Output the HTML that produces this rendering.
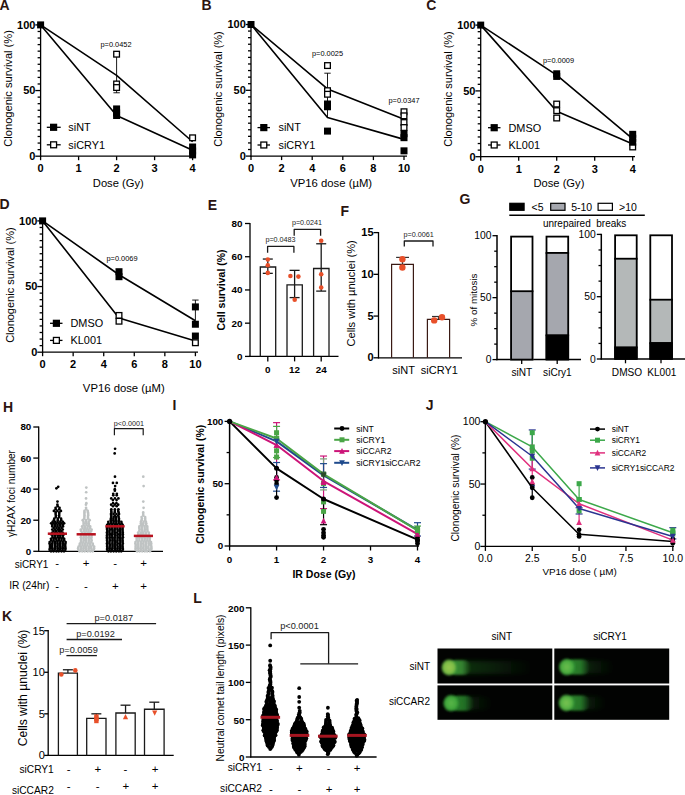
<!DOCTYPE html>
<html><head><meta charset="utf-8"><title>Figure</title>
<style>html,body{margin:0;padding:0;background:#fff;overflow:hidden;width:685px;height:795px;}svg{display:block;font-family:"Liberation Sans", sans-serif;}</style>
</head><body>
<svg width="685" height="795" viewBox="0 0 685 795">
<rect width="685" height="795" fill="#fff"/>
<defs>
<filter id="blur1" x="-30%" y="-80%" width="160%" height="260%"><feGaussianBlur stdDeviation="1.3"/></filter>
<filter id="blur2" x="-30%" y="-80%" width="160%" height="260%"><feGaussianBlur stdDeviation="2.2"/></filter>
</defs>
<text x="-0.6" y="9.7" font-size="14" font-weight="bold" fill="#2b1410">A</text>
<line x1="40.6" y1="24.3" x2="40.6" y2="156.8" stroke="#000" stroke-width="1.3"/>
<line x1="40" y1="156.2" x2="195" y2="156.2" stroke="#000" stroke-width="1.3"/>
<line x1="35.3" y1="156.2" x2="40.6" y2="156.2" stroke="#000" stroke-width="1.3"/>
<line x1="37.6" y1="149.63" x2="40.6" y2="149.63" stroke="#000" stroke-width="1.3"/>
<line x1="37.6" y1="143.07" x2="40.6" y2="143.07" stroke="#000" stroke-width="1.3"/>
<line x1="37.6" y1="136.5" x2="40.6" y2="136.5" stroke="#000" stroke-width="1.3"/>
<line x1="37.6" y1="129.94" x2="40.6" y2="129.94" stroke="#000" stroke-width="1.3"/>
<line x1="37.6" y1="123.38" x2="40.6" y2="123.38" stroke="#000" stroke-width="1.3"/>
<line x1="37.6" y1="116.81" x2="40.6" y2="116.81" stroke="#000" stroke-width="1.3"/>
<line x1="37.6" y1="110.25" x2="40.6" y2="110.25" stroke="#000" stroke-width="1.3"/>
<line x1="37.6" y1="103.68" x2="40.6" y2="103.68" stroke="#000" stroke-width="1.3"/>
<line x1="37.6" y1="97.12" x2="40.6" y2="97.12" stroke="#000" stroke-width="1.3"/>
<line x1="35.3" y1="90.55" x2="40.6" y2="90.55" stroke="#000" stroke-width="1.3"/>
<line x1="37.6" y1="83.98" x2="40.6" y2="83.98" stroke="#000" stroke-width="1.3"/>
<line x1="37.6" y1="77.42" x2="40.6" y2="77.42" stroke="#000" stroke-width="1.3"/>
<line x1="37.6" y1="70.86" x2="40.6" y2="70.86" stroke="#000" stroke-width="1.3"/>
<line x1="37.6" y1="64.29" x2="40.6" y2="64.29" stroke="#000" stroke-width="1.3"/>
<line x1="37.6" y1="57.73" x2="40.6" y2="57.73" stroke="#000" stroke-width="1.3"/>
<line x1="37.6" y1="51.16" x2="40.6" y2="51.16" stroke="#000" stroke-width="1.3"/>
<line x1="37.6" y1="44.6" x2="40.6" y2="44.6" stroke="#000" stroke-width="1.3"/>
<line x1="37.6" y1="38.03" x2="40.6" y2="38.03" stroke="#000" stroke-width="1.3"/>
<line x1="37.6" y1="31.47" x2="40.6" y2="31.47" stroke="#000" stroke-width="1.3"/>
<line x1="35.3" y1="24.9" x2="40.6" y2="24.9" stroke="#000" stroke-width="1.3"/>
<text x="35.4" y="160.1" font-size="11" font-weight="bold" text-anchor="end" fill="#000">0</text>
<text x="35.4" y="94.45" font-size="11" font-weight="bold" text-anchor="end" fill="#000">50</text>
<text x="35.4" y="28.81" font-size="11" font-weight="bold" text-anchor="end" fill="#000">100</text>
<line x1="40.6" y1="156.2" x2="40.6" y2="160.2" stroke="#000" stroke-width="1.3"/>
<text x="40.6" y="172.31" font-size="11" font-weight="bold" text-anchor="middle" fill="#000">0</text>
<line x1="78.6" y1="156.2" x2="78.6" y2="160.2" stroke="#000" stroke-width="1.3"/>
<text x="78.6" y="172.31" font-size="11" font-weight="bold" text-anchor="middle" fill="#000">1</text>
<line x1="116.6" y1="156.2" x2="116.6" y2="160.2" stroke="#000" stroke-width="1.3"/>
<text x="116.6" y="172.31" font-size="11" font-weight="bold" text-anchor="middle" fill="#000">2</text>
<line x1="154.6" y1="156.2" x2="154.6" y2="160.2" stroke="#000" stroke-width="1.3"/>
<text x="154.6" y="172.31" font-size="11" font-weight="bold" text-anchor="middle" fill="#000">3</text>
<line x1="192.6" y1="156.2" x2="192.6" y2="160.2" stroke="#000" stroke-width="1.3"/>
<text x="192.6" y="172.31" font-size="11" font-weight="bold" text-anchor="middle" fill="#000">4</text>
<text x="118.3" y="186.88" font-size="11.2" text-anchor="middle" fill="#000">Dose (Gy)</text>
<text x="7.6" y="92.34" font-size="11.1" text-anchor="middle" fill="#000" transform="rotate(-90 7.6 88.4)">Clonogenic survival (%)</text>
<polyline points="40.6,24.9 116.6,115.5 192.6,150.29" fill="none" stroke="#000" stroke-width="1.6" stroke-linejoin="round"/>
<polyline points="40.6,24.9 116.6,75.32 192.6,141.76" fill="none" stroke="#000" stroke-width="1.6" stroke-linejoin="round"/>
<line x1="116.6" y1="54.44" x2="116.6" y2="92.78" stroke="#000" stroke-width="0.9"/>
<line x1="113.4" y1="92.78" x2="119.8" y2="92.78" stroke="#000" stroke-width="0.9"/>
<rect x="113.75" y="51.33" width="5.7" height="5.7" fill="#fff" stroke="#000" stroke-width="1.3"/>
<rect x="113.75" y="81.14" width="5.7" height="5.7" fill="#fff" stroke="#000" stroke-width="1.3"/>
<rect x="113.75" y="84.68" width="5.7" height="5.7" fill="#fff" stroke="#000" stroke-width="1.3"/>
<rect x="113.1" y="105.43" width="7" height="7" fill="#000"/>
<rect x="113.1" y="109.37" width="7" height="7" fill="#000"/>
<rect x="113.1" y="112" width="7" height="7" fill="#000"/>
<rect x="189.1" y="143.51" width="7" height="7" fill="#000"/>
<rect x="189.1" y="147.45" width="7" height="7" fill="#000"/>
<rect x="189.1" y="151.39" width="7" height="7" fill="#000"/>
<rect x="189.75" y="134.97" width="5.7" height="5.7" fill="#fff" stroke="#000" stroke-width="1.3"/>
<rect x="37.1" y="21.4" width="7" height="7" fill="#000"/>
<text x="116" y="47.33" font-size="7.4" text-anchor="middle" fill="#000">p=0.0452</text>
<line x1="46.8" y1="127.3" x2="60.7" y2="127.3" stroke="#000" stroke-width="1.3"/>
<rect x="50" y="123.7" width="7.2" height="7.2" fill="#000"/>
<line x1="46.8" y1="144.8" x2="60.7" y2="144.8" stroke="#000" stroke-width="1.3"/>
<rect x="50.65" y="141.85" width="5.9" height="5.9" fill="#fff" stroke="#000" stroke-width="1.3"/>
<text x="68.3" y="131.17" font-size="10.9" text-anchor="start" fill="#000">siNT</text>
<text x="68.3" y="148.67" font-size="10.9" text-anchor="start" fill="#000">siCRY1</text>
<text x="201.6" y="9.9" font-size="14" font-weight="bold" fill="#2b1410">B</text>
<line x1="251" y1="23.9" x2="251" y2="156.7" stroke="#000" stroke-width="1.3"/>
<line x1="250.4" y1="156.1" x2="407" y2="156.1" stroke="#000" stroke-width="1.3"/>
<line x1="245.7" y1="156.1" x2="251" y2="156.1" stroke="#000" stroke-width="1.3"/>
<line x1="248" y1="149.52" x2="251" y2="149.52" stroke="#000" stroke-width="1.3"/>
<line x1="248" y1="142.94" x2="251" y2="142.94" stroke="#000" stroke-width="1.3"/>
<line x1="248" y1="136.36" x2="251" y2="136.36" stroke="#000" stroke-width="1.3"/>
<line x1="248" y1="129.78" x2="251" y2="129.78" stroke="#000" stroke-width="1.3"/>
<line x1="248" y1="123.2" x2="251" y2="123.2" stroke="#000" stroke-width="1.3"/>
<line x1="248" y1="116.62" x2="251" y2="116.62" stroke="#000" stroke-width="1.3"/>
<line x1="248" y1="110.04" x2="251" y2="110.04" stroke="#000" stroke-width="1.3"/>
<line x1="248" y1="103.46" x2="251" y2="103.46" stroke="#000" stroke-width="1.3"/>
<line x1="248" y1="96.88" x2="251" y2="96.88" stroke="#000" stroke-width="1.3"/>
<line x1="245.7" y1="90.3" x2="251" y2="90.3" stroke="#000" stroke-width="1.3"/>
<line x1="248" y1="83.72" x2="251" y2="83.72" stroke="#000" stroke-width="1.3"/>
<line x1="248" y1="77.14" x2="251" y2="77.14" stroke="#000" stroke-width="1.3"/>
<line x1="248" y1="70.56" x2="251" y2="70.56" stroke="#000" stroke-width="1.3"/>
<line x1="248" y1="63.98" x2="251" y2="63.98" stroke="#000" stroke-width="1.3"/>
<line x1="248" y1="57.4" x2="251" y2="57.4" stroke="#000" stroke-width="1.3"/>
<line x1="248" y1="50.82" x2="251" y2="50.82" stroke="#000" stroke-width="1.3"/>
<line x1="248" y1="44.24" x2="251" y2="44.24" stroke="#000" stroke-width="1.3"/>
<line x1="248" y1="37.66" x2="251" y2="37.66" stroke="#000" stroke-width="1.3"/>
<line x1="248" y1="31.08" x2="251" y2="31.08" stroke="#000" stroke-width="1.3"/>
<line x1="245.7" y1="24.5" x2="251" y2="24.5" stroke="#000" stroke-width="1.3"/>
<text x="245.8" y="160" font-size="11" font-weight="bold" text-anchor="end" fill="#000">0</text>
<text x="245.8" y="94.2" font-size="11" font-weight="bold" text-anchor="end" fill="#000">50</text>
<text x="245.8" y="28.41" font-size="11" font-weight="bold" text-anchor="end" fill="#000">100</text>
<line x1="251" y1="156.1" x2="251" y2="160.1" stroke="#000" stroke-width="1.3"/>
<text x="251" y="172.31" font-size="11" font-weight="bold" text-anchor="middle" fill="#000">0</text>
<line x1="281.6" y1="156.1" x2="281.6" y2="160.1" stroke="#000" stroke-width="1.3"/>
<text x="281.6" y="172.31" font-size="11" font-weight="bold" text-anchor="middle" fill="#000">2</text>
<line x1="312.2" y1="156.1" x2="312.2" y2="160.1" stroke="#000" stroke-width="1.3"/>
<text x="312.2" y="172.31" font-size="11" font-weight="bold" text-anchor="middle" fill="#000">4</text>
<line x1="342.8" y1="156.1" x2="342.8" y2="160.1" stroke="#000" stroke-width="1.3"/>
<text x="342.8" y="172.31" font-size="11" font-weight="bold" text-anchor="middle" fill="#000">6</text>
<line x1="373.4" y1="156.1" x2="373.4" y2="160.1" stroke="#000" stroke-width="1.3"/>
<text x="373.4" y="172.31" font-size="11" font-weight="bold" text-anchor="middle" fill="#000">8</text>
<line x1="404" y1="156.1" x2="404" y2="160.1" stroke="#000" stroke-width="1.3"/>
<text x="404" y="172.31" font-size="11" font-weight="bold" text-anchor="middle" fill="#000">10</text>
<text x="331.2" y="186.61" font-size="11.3" text-anchor="middle" fill="#000">VP16 dose (µM)</text>
<text x="218.5" y="92.91" font-size="11" text-anchor="middle" fill="#000" transform="rotate(-90 218.5 89)">Clonogenic survival (%)</text>
<polyline points="251,24.5 327.5,117.54 404,139.39" fill="none" stroke="#000" stroke-width="1.6" stroke-linejoin="round"/>
<polyline points="251,24.5 327.5,88.98 404,119.25" fill="none" stroke="#000" stroke-width="1.6" stroke-linejoin="round"/>
<line x1="327.5" y1="73.19" x2="327.5" y2="117.94" stroke="#000" stroke-width="0.9"/>
<line x1="324.3" y1="73.19" x2="330.7" y2="73.19" stroke="#000" stroke-width="0.9"/>
<rect x="324.65" y="62.71" width="5.7" height="5.7" fill="#fff" stroke="#000" stroke-width="1.3"/>
<rect x="324.65" y="87.84" width="5.7" height="5.7" fill="#fff" stroke="#000" stroke-width="1.3"/>
<rect x="324.65" y="91.4" width="5.7" height="5.7" fill="#fff" stroke="#000" stroke-width="1.3"/>
<rect x="324" y="100.49" width="7" height="7" fill="#000"/>
<rect x="324" y="103.25" width="7" height="7" fill="#000"/>
<rect x="324" y="127.6" width="7" height="7" fill="#000"/>
<rect x="401.15" y="108.9" width="5.7" height="5.7" fill="#fff" stroke="#000" stroke-width="1.3"/>
<rect x="401.15" y="112.98" width="5.7" height="5.7" fill="#fff" stroke="#000" stroke-width="1.3"/>
<rect x="401.15" y="119.69" width="5.7" height="5.7" fill="#fff" stroke="#000" stroke-width="1.3"/>
<rect x="401.15" y="124.69" width="5.7" height="5.7" fill="#fff" stroke="#000" stroke-width="1.3"/>
<rect x="400.5" y="130.23" width="7" height="7" fill="#000"/>
<rect x="400.5" y="134.18" width="7" height="7" fill="#000"/>
<rect x="400.5" y="147.34" width="7" height="7" fill="#000"/>
<rect x="247.5" y="21" width="7" height="7" fill="#000"/>
<text x="327.5" y="55.63" font-size="7.4" text-anchor="middle" fill="#000">p=0.0025</text>
<text x="404" y="102.63" font-size="7.4" text-anchor="middle" fill="#000">p=0.0347</text>
<line x1="257.5" y1="127.6" x2="270" y2="127.6" stroke="#000" stroke-width="1.3"/>
<rect x="260.2" y="124" width="7.2" height="7.2" fill="#000"/>
<line x1="257.5" y1="145" x2="270" y2="145" stroke="#000" stroke-width="1.3"/>
<rect x="260.85" y="142.05" width="5.9" height="5.9" fill="#fff" stroke="#000" stroke-width="1.3"/>
<text x="278.5" y="131.47" font-size="10.9" text-anchor="start" fill="#000">siNT</text>
<text x="278.5" y="148.87" font-size="10.9" text-anchor="start" fill="#000">siCRY1</text>
<text x="426.2" y="10" font-size="14" font-weight="bold" fill="#2b1410">C</text>
<line x1="480.7" y1="24.5" x2="480.7" y2="157.3" stroke="#000" stroke-width="1.3"/>
<line x1="480.1" y1="156.7" x2="635" y2="156.7" stroke="#000" stroke-width="1.3"/>
<line x1="475.4" y1="156.7" x2="480.7" y2="156.7" stroke="#000" stroke-width="1.3"/>
<line x1="477.7" y1="150.12" x2="480.7" y2="150.12" stroke="#000" stroke-width="1.3"/>
<line x1="477.7" y1="143.54" x2="480.7" y2="143.54" stroke="#000" stroke-width="1.3"/>
<line x1="477.7" y1="136.96" x2="480.7" y2="136.96" stroke="#000" stroke-width="1.3"/>
<line x1="477.7" y1="130.38" x2="480.7" y2="130.38" stroke="#000" stroke-width="1.3"/>
<line x1="477.7" y1="123.8" x2="480.7" y2="123.8" stroke="#000" stroke-width="1.3"/>
<line x1="477.7" y1="117.22" x2="480.7" y2="117.22" stroke="#000" stroke-width="1.3"/>
<line x1="477.7" y1="110.64" x2="480.7" y2="110.64" stroke="#000" stroke-width="1.3"/>
<line x1="477.7" y1="104.06" x2="480.7" y2="104.06" stroke="#000" stroke-width="1.3"/>
<line x1="477.7" y1="97.48" x2="480.7" y2="97.48" stroke="#000" stroke-width="1.3"/>
<line x1="475.4" y1="90.9" x2="480.7" y2="90.9" stroke="#000" stroke-width="1.3"/>
<line x1="477.7" y1="84.32" x2="480.7" y2="84.32" stroke="#000" stroke-width="1.3"/>
<line x1="477.7" y1="77.74" x2="480.7" y2="77.74" stroke="#000" stroke-width="1.3"/>
<line x1="477.7" y1="71.16" x2="480.7" y2="71.16" stroke="#000" stroke-width="1.3"/>
<line x1="477.7" y1="64.58" x2="480.7" y2="64.58" stroke="#000" stroke-width="1.3"/>
<line x1="477.7" y1="58" x2="480.7" y2="58" stroke="#000" stroke-width="1.3"/>
<line x1="477.7" y1="51.42" x2="480.7" y2="51.42" stroke="#000" stroke-width="1.3"/>
<line x1="477.7" y1="44.84" x2="480.7" y2="44.84" stroke="#000" stroke-width="1.3"/>
<line x1="477.7" y1="38.26" x2="480.7" y2="38.26" stroke="#000" stroke-width="1.3"/>
<line x1="477.7" y1="31.68" x2="480.7" y2="31.68" stroke="#000" stroke-width="1.3"/>
<line x1="475.4" y1="25.1" x2="480.7" y2="25.1" stroke="#000" stroke-width="1.3"/>
<text x="475.5" y="160.6" font-size="11" font-weight="bold" text-anchor="end" fill="#000">0</text>
<text x="475.5" y="94.8" font-size="11" font-weight="bold" text-anchor="end" fill="#000">50</text>
<text x="475.5" y="29" font-size="11" font-weight="bold" text-anchor="end" fill="#000">100</text>
<line x1="480.7" y1="156.7" x2="480.7" y2="160.7" stroke="#000" stroke-width="1.3"/>
<text x="480.7" y="172.5" font-size="11" font-weight="bold" text-anchor="middle" fill="#000">0</text>
<line x1="518.7" y1="156.7" x2="518.7" y2="160.7" stroke="#000" stroke-width="1.3"/>
<text x="518.7" y="172.5" font-size="11" font-weight="bold" text-anchor="middle" fill="#000">1</text>
<line x1="556.7" y1="156.7" x2="556.7" y2="160.7" stroke="#000" stroke-width="1.3"/>
<text x="556.7" y="172.5" font-size="11" font-weight="bold" text-anchor="middle" fill="#000">2</text>
<line x1="594.7" y1="156.7" x2="594.7" y2="160.7" stroke="#000" stroke-width="1.3"/>
<text x="594.7" y="172.5" font-size="11" font-weight="bold" text-anchor="middle" fill="#000">3</text>
<line x1="632.7" y1="156.7" x2="632.7" y2="160.7" stroke="#000" stroke-width="1.3"/>
<text x="632.7" y="172.5" font-size="11" font-weight="bold" text-anchor="middle" fill="#000">4</text>
<text x="558.9" y="186.68" font-size="11.2" text-anchor="middle" fill="#000">Dose (Gy)</text>
<text x="447.8" y="92.91" font-size="11" text-anchor="middle" fill="#000" transform="rotate(-90 447.8 89)">Clonogenic survival (%)</text>
<polyline points="480.7,25.1 556.7,75.11 632.7,138.93" fill="none" stroke="#000" stroke-width="1.6" stroke-linejoin="round"/>
<polyline points="480.7,25.1 556.7,111.3 632.7,143.93" fill="none" stroke="#000" stroke-width="1.6" stroke-linejoin="round"/>
<rect x="553.85" y="101.21" width="5.7" height="5.7" fill="#fff" stroke="#000" stroke-width="1.3"/>
<rect x="553.85" y="107.79" width="5.7" height="5.7" fill="#fff" stroke="#000" stroke-width="1.3"/>
<rect x="553.85" y="115.16" width="5.7" height="5.7" fill="#fff" stroke="#000" stroke-width="1.3"/>
<rect x="553.2" y="70.29" width="7" height="7" fill="#000"/>
<rect x="553.2" y="72.92" width="7" height="7" fill="#000"/>
<rect x="629.85" y="144.11" width="5.7" height="5.7" fill="#fff" stroke="#000" stroke-width="1.3"/>
<rect x="629.2" y="130.83" width="7" height="7" fill="#000"/>
<rect x="629.2" y="134.78" width="7" height="7" fill="#000"/>
<rect x="629.2" y="138.72" width="7" height="7" fill="#000"/>
<rect x="477.2" y="21.6" width="7" height="7" fill="#000"/>
<text x="558.5" y="63.33" font-size="7.4" text-anchor="middle" fill="#000">p=0.0009</text>
<line x1="488" y1="127.7" x2="500.5" y2="127.7" stroke="#000" stroke-width="1.3"/>
<rect x="490.6" y="124.1" width="7.2" height="7.2" fill="#000"/>
<line x1="488" y1="145" x2="500.5" y2="145" stroke="#000" stroke-width="1.3"/>
<rect x="491.25" y="142.05" width="5.9" height="5.9" fill="#fff" stroke="#000" stroke-width="1.3"/>
<text x="508.5" y="131.57" font-size="10.9" text-anchor="start" fill="#000">DMSO</text>
<text x="508.5" y="148.87" font-size="10.9" text-anchor="start" fill="#000">KL001</text>
<text x="-0.6" y="208.6" font-size="14" font-weight="bold" fill="#2b1410">D</text>
<line x1="42.6" y1="220.3" x2="42.6" y2="352.8" stroke="#000" stroke-width="1.3"/>
<line x1="42" y1="352.2" x2="198" y2="352.2" stroke="#000" stroke-width="1.3"/>
<line x1="37.3" y1="352.2" x2="42.6" y2="352.2" stroke="#000" stroke-width="1.3"/>
<line x1="39.6" y1="345.63" x2="42.6" y2="345.63" stroke="#000" stroke-width="1.3"/>
<line x1="39.6" y1="339.07" x2="42.6" y2="339.07" stroke="#000" stroke-width="1.3"/>
<line x1="39.6" y1="332.5" x2="42.6" y2="332.5" stroke="#000" stroke-width="1.3"/>
<line x1="39.6" y1="325.94" x2="42.6" y2="325.94" stroke="#000" stroke-width="1.3"/>
<line x1="39.6" y1="319.38" x2="42.6" y2="319.38" stroke="#000" stroke-width="1.3"/>
<line x1="39.6" y1="312.81" x2="42.6" y2="312.81" stroke="#000" stroke-width="1.3"/>
<line x1="39.6" y1="306.25" x2="42.6" y2="306.25" stroke="#000" stroke-width="1.3"/>
<line x1="39.6" y1="299.68" x2="42.6" y2="299.68" stroke="#000" stroke-width="1.3"/>
<line x1="39.6" y1="293.12" x2="42.6" y2="293.12" stroke="#000" stroke-width="1.3"/>
<line x1="37.3" y1="286.55" x2="42.6" y2="286.55" stroke="#000" stroke-width="1.3"/>
<line x1="39.6" y1="279.99" x2="42.6" y2="279.99" stroke="#000" stroke-width="1.3"/>
<line x1="39.6" y1="273.42" x2="42.6" y2="273.42" stroke="#000" stroke-width="1.3"/>
<line x1="39.6" y1="266.86" x2="42.6" y2="266.86" stroke="#000" stroke-width="1.3"/>
<line x1="39.6" y1="260.29" x2="42.6" y2="260.29" stroke="#000" stroke-width="1.3"/>
<line x1="39.6" y1="253.73" x2="42.6" y2="253.73" stroke="#000" stroke-width="1.3"/>
<line x1="39.6" y1="247.16" x2="42.6" y2="247.16" stroke="#000" stroke-width="1.3"/>
<line x1="39.6" y1="240.6" x2="42.6" y2="240.6" stroke="#000" stroke-width="1.3"/>
<line x1="39.6" y1="234.03" x2="42.6" y2="234.03" stroke="#000" stroke-width="1.3"/>
<line x1="39.6" y1="227.47" x2="42.6" y2="227.47" stroke="#000" stroke-width="1.3"/>
<line x1="37.3" y1="220.9" x2="42.6" y2="220.9" stroke="#000" stroke-width="1.3"/>
<text x="37.4" y="356.1" font-size="11" font-weight="bold" text-anchor="end" fill="#000">0</text>
<text x="37.4" y="290.45" font-size="11" font-weight="bold" text-anchor="end" fill="#000">50</text>
<text x="37.4" y="224.81" font-size="11" font-weight="bold" text-anchor="end" fill="#000">100</text>
<line x1="42.6" y1="352.2" x2="42.6" y2="356.2" stroke="#000" stroke-width="1.3"/>
<text x="42.6" y="368" font-size="11" font-weight="bold" text-anchor="middle" fill="#000">0</text>
<line x1="73.16" y1="352.2" x2="73.16" y2="356.2" stroke="#000" stroke-width="1.3"/>
<text x="73.16" y="368" font-size="11" font-weight="bold" text-anchor="middle" fill="#000">2</text>
<line x1="103.72" y1="352.2" x2="103.72" y2="356.2" stroke="#000" stroke-width="1.3"/>
<text x="103.72" y="368" font-size="11" font-weight="bold" text-anchor="middle" fill="#000">4</text>
<line x1="134.28" y1="352.2" x2="134.28" y2="356.2" stroke="#000" stroke-width="1.3"/>
<text x="134.28" y="368" font-size="11" font-weight="bold" text-anchor="middle" fill="#000">6</text>
<line x1="164.84" y1="352.2" x2="164.84" y2="356.2" stroke="#000" stroke-width="1.3"/>
<text x="164.84" y="368" font-size="11" font-weight="bold" text-anchor="middle" fill="#000">8</text>
<line x1="195.4" y1="352.2" x2="195.4" y2="356.2" stroke="#000" stroke-width="1.3"/>
<text x="195.4" y="368" font-size="11" font-weight="bold" text-anchor="middle" fill="#000">10</text>
<text x="123.8" y="391.51" font-size="11.3" text-anchor="middle" fill="#000">VP16 dose (µM)</text>
<text x="9.8" y="289" font-size="11" text-anchor="middle" fill="#000" transform="rotate(-90 9.8 285.1)">Clonogenic survival (%)</text>
<polyline points="42.6,220.9 119,274.73 195.4,320.69" fill="none" stroke="#000" stroke-width="1.6" stroke-linejoin="round"/>
<polyline points="42.6,220.9 119,318.06 195.4,341.04" fill="none" stroke="#000" stroke-width="1.6" stroke-linejoin="round"/>
<line x1="195.4" y1="300.07" x2="195.4" y2="320.69" stroke="#000" stroke-width="0.9"/>
<line x1="192.2" y1="300.07" x2="198.6" y2="300.07" stroke="#000" stroke-width="0.9"/>
<rect x="115.5" y="268.21" width="7" height="7" fill="#000"/>
<rect x="115.5" y="273.2" width="7" height="7" fill="#000"/>
<rect x="116.15" y="312.59" width="5.7" height="5.7" fill="#fff" stroke="#000" stroke-width="1.3"/>
<rect x="116.15" y="318.36" width="5.7" height="5.7" fill="#fff" stroke="#000" stroke-width="1.3"/>
<rect x="191.9" y="303.4" width="7" height="7" fill="#000"/>
<rect x="191.9" y="320.73" width="7" height="7" fill="#000"/>
<rect x="191.9" y="332.55" width="7" height="7" fill="#000"/>
<rect x="192.55" y="339.9" width="5.7" height="5.7" fill="#fff" stroke="#000" stroke-width="1.3"/>
<rect x="39.1" y="217.4" width="7" height="7" fill="#000"/>
<text x="122" y="260.83" font-size="7.4" text-anchor="middle" fill="#000">p=0.0069</text>
<line x1="50" y1="323.3" x2="62.5" y2="323.3" stroke="#000" stroke-width="1.3"/>
<rect x="52.8" y="319.7" width="7.2" height="7.2" fill="#000"/>
<line x1="50" y1="340.4" x2="62.5" y2="340.4" stroke="#000" stroke-width="1.3"/>
<rect x="53.45" y="337.45" width="5.9" height="5.9" fill="#fff" stroke="#000" stroke-width="1.3"/>
<text x="70.5" y="327.17" font-size="10.9" text-anchor="start" fill="#000">DMSO</text>
<text x="70.5" y="344.27" font-size="10.9" text-anchor="start" fill="#000">KL001</text>
<text x="207.8" y="210" font-size="14" font-weight="bold" fill="#2b1410">E</text>
<line x1="250" y1="222.9" x2="250" y2="357" stroke="#000" stroke-width="1.3"/>
<line x1="249.4" y1="356.4" x2="338.5" y2="356.4" stroke="#000" stroke-width="1.3"/>
<line x1="245" y1="356.4" x2="250" y2="356.4" stroke="#000" stroke-width="1.3"/>
<text x="242.4" y="359.91" font-size="9.9" font-weight="bold" text-anchor="end" fill="#000">0</text>
<line x1="245" y1="323.17" x2="250" y2="323.17" stroke="#000" stroke-width="1.3"/>
<text x="242.4" y="326.69" font-size="9.9" font-weight="bold" text-anchor="end" fill="#000">20</text>
<line x1="245" y1="289.95" x2="250" y2="289.95" stroke="#000" stroke-width="1.3"/>
<text x="242.4" y="293.46" font-size="9.9" font-weight="bold" text-anchor="end" fill="#000">40</text>
<line x1="245" y1="256.73" x2="250" y2="256.73" stroke="#000" stroke-width="1.3"/>
<text x="242.4" y="260.24" font-size="9.9" font-weight="bold" text-anchor="end" fill="#000">60</text>
<line x1="245" y1="223.5" x2="250" y2="223.5" stroke="#000" stroke-width="1.3"/>
<text x="242.4" y="227.01" font-size="9.9" font-weight="bold" text-anchor="end" fill="#000">80</text>
<polyline points="260.3,356.4 260.3,267.02 275.7,267.02 275.7,356.4" fill="none" stroke="#1a1a1a" stroke-width="1.3"/>
<line x1="267.8" y1="259.05" x2="267.8" y2="273.34" stroke="#1a1a1a" stroke-width="1.3"/>
<line x1="262.8" y1="259.05" x2="272.8" y2="259.05" stroke="#1a1a1a" stroke-width="1.3"/>
<line x1="262.8" y1="273.34" x2="272.8" y2="273.34" stroke="#1a1a1a" stroke-width="1.3"/>
<polyline points="287,356.4 287,284.97 302.3,284.97 302.3,356.4" fill="none" stroke="#1a1a1a" stroke-width="1.3"/>
<line x1="294.6" y1="270.35" x2="294.6" y2="297.59" stroke="#1a1a1a" stroke-width="1.3"/>
<line x1="289.6" y1="270.35" x2="299.6" y2="270.35" stroke="#1a1a1a" stroke-width="1.3"/>
<line x1="289.6" y1="297.59" x2="299.6" y2="297.59" stroke="#1a1a1a" stroke-width="1.3"/>
<polyline points="313.6,356.4 313.6,268.52 329,268.52 329,356.4" fill="none" stroke="#1a1a1a" stroke-width="1.3"/>
<line x1="321.2" y1="243.77" x2="321.2" y2="291.11" stroke="#1a1a1a" stroke-width="1.3"/>
<line x1="316.2" y1="243.77" x2="326.2" y2="243.77" stroke="#1a1a1a" stroke-width="1.3"/>
<line x1="316.2" y1="291.11" x2="326.2" y2="291.11" stroke="#1a1a1a" stroke-width="1.3"/>
<circle cx="267.8" cy="259.5" r="2.3" fill="#e8502a"/>
<circle cx="267.8" cy="265.3" r="2.3" fill="#e8502a"/>
<circle cx="267.8" cy="272.9" r="2.3" fill="#e8502a"/>
<circle cx="290.4" cy="276" r="2.3" fill="#e8502a"/>
<circle cx="298.4" cy="276.6" r="2.3" fill="#e8502a"/>
<circle cx="294.7" cy="299.8" r="2.3" fill="#e8502a"/>
<circle cx="321.2" cy="240.8" r="2.3" fill="#e8502a"/>
<circle cx="321.2" cy="274.3" r="2.3" fill="#e8502a"/>
<circle cx="321.2" cy="287.5" r="2.3" fill="#e8502a"/>
<line x1="267.8" y1="356.4" x2="267.8" y2="361.4" stroke="#000" stroke-width="1.3"/>
<text x="267.8" y="373.31" font-size="9.9" font-weight="bold" text-anchor="middle" fill="#000">0</text>
<line x1="294.6" y1="356.4" x2="294.6" y2="361.4" stroke="#000" stroke-width="1.3"/>
<text x="294.6" y="373.31" font-size="9.9" font-weight="bold" text-anchor="middle" fill="#000">12</text>
<line x1="321.2" y1="356.4" x2="321.2" y2="361.4" stroke="#000" stroke-width="1.3"/>
<text x="321.2" y="373.31" font-size="9.9" font-weight="bold" text-anchor="middle" fill="#000">24</text>
<polyline points="267.6,252.7 267.6,246.4 293.9,246.4 293.9,252.7" fill="none" stroke="#1a1a1a" stroke-width="1.3" stroke-linejoin="round"/>
<polyline points="294.2,235.7 294.2,229.3 320.6,229.3 320.6,235.7" fill="none" stroke="#1a1a1a" stroke-width="1.3" stroke-linejoin="round"/>
<text x="280.5" y="242.36" font-size="7.2" text-anchor="middle" fill="#222">p=0.0483</text>
<text x="307" y="225.46" font-size="7.2" text-anchor="middle" fill="#222">p=0.0241</text>
<text x="221" y="293.73" font-size="10.5" font-weight="bold" text-anchor="middle" fill="#000" transform="rotate(-90 221 290)">Cell survival (%)</text>
<text x="340.6" y="215.6" font-size="14" font-weight="bold" fill="#2b1410">F</text>
<line x1="378.5" y1="232" x2="378.5" y2="358.4" stroke="#000" stroke-width="1.3"/>
<line x1="377.9" y1="357.8" x2="462" y2="357.8" stroke="#000" stroke-width="1.3"/>
<line x1="373.5" y1="357.8" x2="378.5" y2="357.8" stroke="#000" stroke-width="1.3"/>
<text x="373.6" y="361.4" font-size="11" font-weight="bold" text-anchor="end" fill="#000">0</text>
<line x1="373.5" y1="316.07" x2="378.5" y2="316.07" stroke="#000" stroke-width="1.3"/>
<text x="373.6" y="319.67" font-size="11" font-weight="bold" text-anchor="end" fill="#000">5</text>
<line x1="373.5" y1="274.33" x2="378.5" y2="274.33" stroke="#000" stroke-width="1.3"/>
<text x="373.6" y="277.94" font-size="11" font-weight="bold" text-anchor="end" fill="#000">10</text>
<line x1="373.5" y1="232.6" x2="378.5" y2="232.6" stroke="#000" stroke-width="1.3"/>
<text x="373.6" y="236.2" font-size="11" font-weight="bold" text-anchor="end" fill="#000">15</text>
<polyline points="391.6,357.8 391.6,264.3 413.4,264.3 413.4,357.8" fill="none" stroke="#3a1a14" stroke-width="1.2"/>
<polyline points="427.4,357.8 427.4,319.4 449.6,319.4 449.6,357.8" fill="none" stroke="#3a1a14" stroke-width="1.2"/>
<line x1="402.5" y1="257.4" x2="402.5" y2="264.3" stroke="#333" stroke-width="1.2"/>
<line x1="396.1" y1="257.4" x2="409" y2="257.4" stroke="#333" stroke-width="1.2"/>
<line x1="438.5" y1="316.5" x2="438.5" y2="319.4" stroke="#333" stroke-width="1.2"/>
<line x1="432" y1="316.5" x2="445" y2="316.5" stroke="#333" stroke-width="1.2"/>
<circle cx="402.4" cy="259.2" r="3.2" fill="#e8502a"/>
<circle cx="402.4" cy="267.5" r="3.2" fill="#e8502a"/>
<circle cx="434.2" cy="320.4" r="3.2" fill="#e8502a"/>
<circle cx="442" cy="317.2" r="3.2" fill="#e8502a"/>
<polyline points="404.3,246.6 404.3,241 433,241 433,246.6" fill="none" stroke="#1a1a1a" stroke-width="1.3" stroke-linejoin="round"/>
<text x="418.6" y="237.36" font-size="7.2" text-anchor="middle" fill="#222">p=0.0061</text>
<text x="403.6" y="373.6" font-size="11" text-anchor="middle" fill="#000">siNT</text>
<text x="439.4" y="373.6" font-size="11" text-anchor="middle" fill="#000">siCRY1</text>
<text x="351.5" y="297.34" font-size="11.1" text-anchor="middle" fill="#000" transform="rotate(-90 351.5 293.4)">Cells with µnuclei (%)</text>
<text x="459.4" y="204.4" font-size="14" font-weight="bold" fill="#2b1410">G</text>
<rect x="509.8" y="203.3" width="14.3" height="7" fill="#000" stroke="#000" stroke-width="1.2"/>
<rect x="550.7" y="203.3" width="14.3" height="7" fill="#a5a7ae" stroke="#000" stroke-width="1.2"/>
<rect x="598.1" y="203.3" width="14.3" height="7" fill="#fff" stroke="#000" stroke-width="1.2"/>
<text x="531.5" y="210.53" font-size="10.5" text-anchor="start" fill="#000">&lt;5</text>
<text x="571.2" y="210.53" font-size="10.5" text-anchor="start" fill="#000">5-10</text>
<text x="619.1" y="210.53" font-size="10.5" text-anchor="start" fill="#000">&gt;10</text>
<line x1="509.3" y1="215.2" x2="644.8" y2="215.2" stroke="#000" stroke-width="1.5"/>
<text x="584.6" y="227.45" font-size="10" text-anchor="middle" fill="#000">unrepaired&#160; breaks</text>
<line x1="497" y1="235.1" x2="497" y2="360.2" stroke="#000" stroke-width="1.5"/>
<line x1="496.4" y1="359.6" x2="581" y2="359.6" stroke="#000" stroke-width="1.5"/>
<line x1="492.5" y1="359.6" x2="497" y2="359.6" stroke="#000" stroke-width="1.3"/>
<line x1="494.2" y1="344.11" x2="497" y2="344.11" stroke="#000" stroke-width="1.3"/>
<line x1="494.2" y1="328.62" x2="497" y2="328.62" stroke="#000" stroke-width="1.3"/>
<line x1="494.2" y1="313.14" x2="497" y2="313.14" stroke="#000" stroke-width="1.3"/>
<line x1="492.5" y1="297.65" x2="497" y2="297.65" stroke="#000" stroke-width="1.3"/>
<line x1="494.2" y1="282.16" x2="497" y2="282.16" stroke="#000" stroke-width="1.3"/>
<line x1="494.2" y1="266.68" x2="497" y2="266.68" stroke="#000" stroke-width="1.3"/>
<line x1="494.2" y1="251.19" x2="497" y2="251.19" stroke="#000" stroke-width="1.3"/>
<line x1="492.5" y1="235.7" x2="497" y2="235.7" stroke="#000" stroke-width="1.3"/>
<text x="491.5" y="363.26" font-size="10.3" text-anchor="end" fill="#000">0</text>
<text x="491.5" y="301.31" font-size="10.3" text-anchor="end" fill="#000">50</text>
<text x="491.5" y="239.36" font-size="10.3" text-anchor="end" fill="#000">100</text>
<rect x="510.2" y="291.21" width="23.2" height="68.39" fill="#a5a7ae"/>
<rect x="510.2" y="235.7" width="23.2" height="55.51" fill="#fff"/>
<rect x="511.1" y="236.6" width="21.4" height="123" fill="none" stroke="#000" stroke-width="1.8"/>
<line x1="510.2" y1="291.21" x2="533.4" y2="291.21" stroke="#000" stroke-width="1.8"/>
<rect x="545.6" y="335.19" width="23.5" height="24.41" fill="#000"/>
<rect x="545.6" y="252.92" width="23.5" height="82.27" fill="#a5a7ae"/>
<rect x="545.6" y="235.7" width="23.5" height="17.22" fill="#fff"/>
<rect x="546.5" y="236.6" width="21.7" height="123" fill="none" stroke="#000" stroke-width="1.8"/>
<line x1="545.6" y1="335.19" x2="569.1" y2="335.19" stroke="#000" stroke-width="1.8"/>
<line x1="545.6" y1="252.92" x2="569.1" y2="252.92" stroke="#000" stroke-width="1.8"/>
<line x1="521.7" y1="359.6" x2="521.7" y2="363.9" stroke="#000" stroke-width="1.3"/>
<text x="521.9" y="376.19" font-size="10.1" text-anchor="middle" fill="#000">siNT</text>
<line x1="557.2" y1="359.6" x2="557.2" y2="363.9" stroke="#000" stroke-width="1.3"/>
<text x="557.4" y="376.19" font-size="10.1" text-anchor="middle" fill="#000">siCry1</text>
<line x1="601.3" y1="233.8" x2="601.3" y2="359.6" stroke="#000" stroke-width="1.5"/>
<line x1="600.7" y1="359" x2="685" y2="359" stroke="#000" stroke-width="1.5"/>
<line x1="596.8" y1="359" x2="601.3" y2="359" stroke="#000" stroke-width="1.3"/>
<line x1="598.5" y1="343.43" x2="601.3" y2="343.43" stroke="#000" stroke-width="1.3"/>
<line x1="598.5" y1="327.85" x2="601.3" y2="327.85" stroke="#000" stroke-width="1.3"/>
<line x1="598.5" y1="312.27" x2="601.3" y2="312.27" stroke="#000" stroke-width="1.3"/>
<line x1="596.8" y1="296.7" x2="601.3" y2="296.7" stroke="#000" stroke-width="1.3"/>
<line x1="598.5" y1="281.12" x2="601.3" y2="281.12" stroke="#000" stroke-width="1.3"/>
<line x1="598.5" y1="265.55" x2="601.3" y2="265.55" stroke="#000" stroke-width="1.3"/>
<line x1="598.5" y1="249.97" x2="601.3" y2="249.97" stroke="#000" stroke-width="1.3"/>
<line x1="596.8" y1="234.4" x2="601.3" y2="234.4" stroke="#000" stroke-width="1.3"/>
<text x="595.8" y="362.66" font-size="10.3" text-anchor="end" fill="#000">0</text>
<text x="595.8" y="300.36" font-size="10.3" text-anchor="end" fill="#000">50</text>
<text x="595.8" y="238.06" font-size="10.3" text-anchor="end" fill="#000">100</text>
<rect x="614.2" y="347.29" width="23.4" height="11.71" fill="#000"/>
<rect x="614.2" y="258.7" width="23.4" height="88.59" fill="#b4b8b8"/>
<rect x="614.2" y="234.4" width="23.4" height="24.3" fill="#fff"/>
<rect x="615.1" y="235.3" width="21.6" height="123.7" fill="none" stroke="#000" stroke-width="1.8"/>
<line x1="614.2" y1="347.29" x2="637.6" y2="347.29" stroke="#000" stroke-width="1.8"/>
<line x1="614.2" y1="258.7" x2="637.6" y2="258.7" stroke="#000" stroke-width="1.8"/>
<rect x="649.4" y="342.93" width="23.5" height="16.07" fill="#000"/>
<rect x="649.4" y="299.69" width="23.5" height="43.24" fill="#b4b8b8"/>
<rect x="649.4" y="234.4" width="23.5" height="65.29" fill="#fff"/>
<rect x="650.3" y="235.3" width="21.7" height="123.7" fill="none" stroke="#000" stroke-width="1.8"/>
<line x1="649.4" y1="342.93" x2="672.9" y2="342.93" stroke="#000" stroke-width="1.8"/>
<line x1="649.4" y1="299.69" x2="672.9" y2="299.69" stroke="#000" stroke-width="1.8"/>
<line x1="625.5" y1="359" x2="625.5" y2="363.3" stroke="#000" stroke-width="1.3"/>
<text x="627" y="375.59" font-size="10.1" text-anchor="middle" fill="#000">DMSO</text>
<line x1="661" y1="359" x2="661" y2="363.3" stroke="#000" stroke-width="1.3"/>
<text x="661.8" y="375.59" font-size="10.1" text-anchor="middle" fill="#000">KL001</text>
<text x="474" y="303.48" font-size="9.8" text-anchor="middle" fill="#000" transform="rotate(-90 474 300)">% of mitosis</text>
<text x="3" y="412.1" font-size="14" font-weight="bold" fill="#2b1410">H</text>
<line x1="38.7" y1="426.4" x2="38.7" y2="551.9" stroke="#000" stroke-width="1.3"/>
<line x1="38.1" y1="551.3" x2="163" y2="551.3" stroke="#000" stroke-width="1.3"/>
<line x1="33.3" y1="551.3" x2="38.7" y2="551.3" stroke="#000" stroke-width="1.3"/>
<text x="31.3" y="554.78" font-size="9.8" font-weight="bold" text-anchor="end" fill="#000">0</text>
<line x1="33.3" y1="520.22" x2="38.7" y2="520.22" stroke="#000" stroke-width="1.3"/>
<text x="31.3" y="523.7" font-size="9.8" font-weight="bold" text-anchor="end" fill="#000">20</text>
<line x1="33.3" y1="489.15" x2="38.7" y2="489.15" stroke="#000" stroke-width="1.3"/>
<text x="31.3" y="492.63" font-size="9.8" font-weight="bold" text-anchor="end" fill="#000">40</text>
<line x1="33.3" y1="458.07" x2="38.7" y2="458.07" stroke="#000" stroke-width="1.3"/>
<text x="31.3" y="461.55" font-size="9.8" font-weight="bold" text-anchor="end" fill="#000">60</text>
<line x1="33.3" y1="427" x2="38.7" y2="427" stroke="#000" stroke-width="1.3"/>
<text x="31.3" y="430.48" font-size="9.8" font-weight="bold" text-anchor="end" fill="#000">80</text>
<g fill="#000"><circle cx="51.01" cy="551.3" r="1.35"/><circle cx="53.53" cy="551.3" r="1.35"/><circle cx="56.38" cy="551.3" r="1.35"/><circle cx="58.69" cy="551.3" r="1.35"/><circle cx="61.52" cy="551.3" r="1.35"/><circle cx="64.03" cy="551.3" r="1.35"/><circle cx="49.58" cy="549.75" r="1.35"/><circle cx="52.4" cy="549.75" r="1.35"/><circle cx="54.77" cy="549.75" r="1.35"/><circle cx="57.57" cy="549.75" r="1.35"/><circle cx="59.98" cy="549.75" r="1.35"/><circle cx="62.6" cy="549.75" r="1.35"/><circle cx="65.36" cy="549.75" r="1.35"/><circle cx="49.96" cy="548.19" r="1.35"/><circle cx="52.21" cy="548.19" r="1.35"/><circle cx="54.86" cy="548.19" r="1.35"/><circle cx="57.66" cy="548.19" r="1.35"/><circle cx="60.42" cy="548.19" r="1.35"/><circle cx="62.84" cy="548.19" r="1.35"/><circle cx="65.35" cy="548.19" r="1.35"/><circle cx="50.04" cy="546.64" r="1.35"/><circle cx="52.17" cy="546.64" r="1.35"/><circle cx="55.18" cy="546.64" r="1.35"/><circle cx="57.49" cy="546.64" r="1.35"/><circle cx="60.02" cy="546.64" r="1.35"/><circle cx="62.61" cy="546.64" r="1.35"/><circle cx="65.3" cy="546.64" r="1.35"/><circle cx="49.96" cy="545.08" r="1.35"/><circle cx="52.24" cy="545.08" r="1.35"/><circle cx="55.04" cy="545.08" r="1.35"/><circle cx="57.67" cy="545.08" r="1.35"/><circle cx="60.14" cy="545.08" r="1.35"/><circle cx="62.82" cy="545.08" r="1.35"/><circle cx="65.18" cy="545.08" r="1.35"/><circle cx="49.58" cy="543.53" r="1.35"/><circle cx="52.25" cy="543.53" r="1.35"/><circle cx="55.09" cy="543.53" r="1.35"/><circle cx="57.56" cy="543.53" r="1.35"/><circle cx="60.11" cy="543.53" r="1.35"/><circle cx="62.84" cy="543.53" r="1.35"/><circle cx="65.38" cy="543.53" r="1.35"/><circle cx="49.7" cy="541.98" r="1.35"/><circle cx="52.55" cy="541.98" r="1.35"/><circle cx="55.1" cy="541.98" r="1.35"/><circle cx="57.47" cy="541.98" r="1.35"/><circle cx="60.24" cy="541.98" r="1.35"/><circle cx="62.81" cy="541.98" r="1.35"/><circle cx="65.59" cy="541.98" r="1.35"/><circle cx="51.21" cy="540.42" r="1.35"/><circle cx="53.59" cy="540.42" r="1.35"/><circle cx="56.54" cy="540.42" r="1.35"/><circle cx="58.71" cy="540.42" r="1.35"/><circle cx="61.46" cy="540.42" r="1.35"/><circle cx="64.23" cy="540.42" r="1.35"/><circle cx="50.93" cy="538.87" r="1.35"/><circle cx="53.69" cy="538.87" r="1.35"/><circle cx="56.07" cy="538.87" r="1.35"/><circle cx="58.98" cy="538.87" r="1.35"/><circle cx="61.63" cy="538.87" r="1.35"/><circle cx="64.14" cy="538.87" r="1.35"/><circle cx="52.59" cy="537.32" r="1.35"/><circle cx="54.91" cy="537.32" r="1.35"/><circle cx="57.7" cy="537.32" r="1.35"/><circle cx="60.25" cy="537.32" r="1.35"/><circle cx="62.84" cy="537.32" r="1.35"/><circle cx="52.38" cy="535.76" r="1.35"/><circle cx="55.17" cy="535.76" r="1.35"/><circle cx="57.82" cy="535.76" r="1.35"/><circle cx="60.19" cy="535.76" r="1.35"/><circle cx="62.88" cy="535.76" r="1.35"/><circle cx="50.88" cy="534.21" r="1.35"/><circle cx="53.8" cy="534.21" r="1.35"/><circle cx="56.37" cy="534.21" r="1.35"/><circle cx="59.15" cy="534.21" r="1.35"/><circle cx="61.66" cy="534.21" r="1.35"/><circle cx="63.99" cy="534.21" r="1.35"/><circle cx="52.34" cy="532.65" r="1.35"/><circle cx="55.08" cy="532.65" r="1.35"/><circle cx="57.36" cy="532.65" r="1.35"/><circle cx="60.18" cy="532.65" r="1.35"/><circle cx="62.63" cy="532.65" r="1.35"/><circle cx="53.51" cy="531.1" r="1.35"/><circle cx="56.08" cy="531.1" r="1.35"/><circle cx="59.03" cy="531.1" r="1.35"/><circle cx="61.31" cy="531.1" r="1.35"/><circle cx="52.27" cy="529.55" r="1.35"/><circle cx="54.95" cy="529.55" r="1.35"/><circle cx="57.79" cy="529.55" r="1.35"/><circle cx="59.99" cy="529.55" r="1.35"/><circle cx="62.77" cy="529.55" r="1.35"/><circle cx="53.72" cy="527.99" r="1.35"/><circle cx="56.49" cy="527.99" r="1.35"/><circle cx="59.06" cy="527.99" r="1.35"/><circle cx="61.68" cy="527.99" r="1.35"/><circle cx="52.29" cy="526.44" r="1.35"/><circle cx="54.96" cy="526.44" r="1.35"/><circle cx="57.53" cy="526.44" r="1.35"/><circle cx="60.39" cy="526.44" r="1.35"/><circle cx="63.03" cy="526.44" r="1.35"/><circle cx="52.23" cy="524.89" r="1.35"/><circle cx="54.84" cy="524.89" r="1.35"/><circle cx="57.47" cy="524.89" r="1.35"/><circle cx="60.07" cy="524.89" r="1.35"/><circle cx="62.79" cy="524.89" r="1.35"/><circle cx="51.14" cy="523.33" r="1.35"/><circle cx="53.58" cy="523.33" r="1.35"/><circle cx="56.05" cy="523.33" r="1.35"/><circle cx="58.86" cy="523.33" r="1.35"/><circle cx="61.43" cy="523.33" r="1.35"/><circle cx="64.13" cy="523.33" r="1.35"/><circle cx="52.63" cy="521.78" r="1.35"/><circle cx="55.1" cy="521.78" r="1.35"/><circle cx="57.61" cy="521.78" r="1.35"/><circle cx="60.26" cy="521.78" r="1.35"/><circle cx="62.89" cy="521.78" r="1.35"/><circle cx="53.87" cy="520.22" r="1.35"/><circle cx="57.8" cy="520.22" r="1.35"/><circle cx="61.25" cy="520.22" r="1.35"/><circle cx="54.28" cy="518.67" r="1.35"/><circle cx="57.75" cy="518.67" r="1.35"/><circle cx="61.06" cy="518.67" r="1.35"/><circle cx="55.79" cy="517.12" r="1.35"/><circle cx="59.16" cy="517.12" r="1.35"/><circle cx="55.91" cy="515.56" r="1.35"/><circle cx="59.14" cy="515.56" r="1.35"/><circle cx="55.63" cy="514.01" r="1.35"/><circle cx="59.21" cy="514.01" r="1.35"/><circle cx="55.68" cy="512.46" r="1.35"/><circle cx="59.28" cy="512.46" r="1.35"/><circle cx="53.87" cy="510.9" r="1.35"/><circle cx="57.35" cy="510.9" r="1.35"/><circle cx="60.94" cy="510.9" r="1.35"/><circle cx="55.65" cy="509.35" r="1.35"/><circle cx="59.29" cy="509.35" r="1.35"/><circle cx="55.61" cy="507.79" r="1.35"/><circle cx="59.54" cy="507.79" r="1.35"/><circle cx="57.66" cy="506.24" r="1.35"/><circle cx="57.42" cy="504.69" r="1.35"/><circle cx="57.48" cy="501.58" r="1.35"/></g>
<circle cx="56.4" cy="488.37" r="1.35"/><circle cx="58.2" cy="486.82" r="1.35"/>
<g fill="#bfc3c3"><circle cx="79.62" cy="551.3" r="1.35"/><circle cx="82.23" cy="551.3" r="1.35"/><circle cx="84.71" cy="551.3" r="1.35"/><circle cx="87.67" cy="551.3" r="1.35"/><circle cx="90.35" cy="551.3" r="1.35"/><circle cx="92.68" cy="551.3" r="1.35"/><circle cx="78.39" cy="549.75" r="1.35"/><circle cx="80.79" cy="549.75" r="1.35"/><circle cx="83.4" cy="549.75" r="1.35"/><circle cx="86.12" cy="549.75" r="1.35"/><circle cx="88.68" cy="549.75" r="1.35"/><circle cx="91.56" cy="549.75" r="1.35"/><circle cx="93.83" cy="549.75" r="1.35"/><circle cx="78.16" cy="548.19" r="1.35"/><circle cx="81.23" cy="548.19" r="1.35"/><circle cx="83.61" cy="548.19" r="1.35"/><circle cx="86.02" cy="548.19" r="1.35"/><circle cx="88.82" cy="548.19" r="1.35"/><circle cx="91.16" cy="548.19" r="1.35"/><circle cx="94.01" cy="548.19" r="1.35"/><circle cx="78.64" cy="546.64" r="1.35"/><circle cx="81.18" cy="546.64" r="1.35"/><circle cx="83.7" cy="546.64" r="1.35"/><circle cx="86.08" cy="546.64" r="1.35"/><circle cx="88.73" cy="546.64" r="1.35"/><circle cx="91.23" cy="546.64" r="1.35"/><circle cx="94.14" cy="546.64" r="1.35"/><circle cx="79.72" cy="545.08" r="1.35"/><circle cx="82.44" cy="545.08" r="1.35"/><circle cx="84.81" cy="545.08" r="1.35"/><circle cx="87.36" cy="545.08" r="1.35"/><circle cx="90.26" cy="545.08" r="1.35"/><circle cx="92.94" cy="545.08" r="1.35"/><circle cx="79.88" cy="543.53" r="1.35"/><circle cx="82.45" cy="543.53" r="1.35"/><circle cx="85.06" cy="543.53" r="1.35"/><circle cx="87.62" cy="543.53" r="1.35"/><circle cx="89.96" cy="543.53" r="1.35"/><circle cx="92.71" cy="543.53" r="1.35"/><circle cx="80.93" cy="541.98" r="1.35"/><circle cx="83.36" cy="541.98" r="1.35"/><circle cx="85.96" cy="541.98" r="1.35"/><circle cx="88.69" cy="541.98" r="1.35"/><circle cx="91.28" cy="541.98" r="1.35"/><circle cx="81.1" cy="540.42" r="1.35"/><circle cx="83.83" cy="540.42" r="1.35"/><circle cx="86.17" cy="540.42" r="1.35"/><circle cx="89.02" cy="540.42" r="1.35"/><circle cx="91.64" cy="540.42" r="1.35"/><circle cx="81.23" cy="538.87" r="1.35"/><circle cx="83.53" cy="538.87" r="1.35"/><circle cx="86.06" cy="538.87" r="1.35"/><circle cx="88.66" cy="538.87" r="1.35"/><circle cx="91.25" cy="538.87" r="1.35"/><circle cx="80.85" cy="537.32" r="1.35"/><circle cx="83.66" cy="537.32" r="1.35"/><circle cx="86.4" cy="537.32" r="1.35"/><circle cx="88.97" cy="537.32" r="1.35"/><circle cx="91.39" cy="537.32" r="1.35"/><circle cx="81.08" cy="535.76" r="1.35"/><circle cx="83.75" cy="535.76" r="1.35"/><circle cx="85.99" cy="535.76" r="1.35"/><circle cx="88.88" cy="535.76" r="1.35"/><circle cx="91.6" cy="535.76" r="1.35"/><circle cx="81.14" cy="534.21" r="1.35"/><circle cx="83.73" cy="534.21" r="1.35"/><circle cx="86.19" cy="534.21" r="1.35"/><circle cx="88.64" cy="534.21" r="1.35"/><circle cx="91.54" cy="534.21" r="1.35"/><circle cx="82.22" cy="532.65" r="1.35"/><circle cx="85.05" cy="532.65" r="1.35"/><circle cx="87.74" cy="532.65" r="1.35"/><circle cx="90.05" cy="532.65" r="1.35"/><circle cx="80.95" cy="531.1" r="1.35"/><circle cx="83.82" cy="531.1" r="1.35"/><circle cx="86.31" cy="531.1" r="1.35"/><circle cx="88.64" cy="531.1" r="1.35"/><circle cx="91.21" cy="531.1" r="1.35"/><circle cx="80.83" cy="529.55" r="1.35"/><circle cx="83.8" cy="529.55" r="1.35"/><circle cx="86.35" cy="529.55" r="1.35"/><circle cx="88.62" cy="529.55" r="1.35"/><circle cx="91.56" cy="529.55" r="1.35"/><circle cx="82.54" cy="527.99" r="1.35"/><circle cx="84.98" cy="527.99" r="1.35"/><circle cx="87.43" cy="527.99" r="1.35"/><circle cx="90.12" cy="527.99" r="1.35"/><circle cx="82.12" cy="526.44" r="1.35"/><circle cx="84.66" cy="526.44" r="1.35"/><circle cx="87.74" cy="526.44" r="1.35"/><circle cx="90.17" cy="526.44" r="1.35"/><circle cx="83.61" cy="524.89" r="1.35"/><circle cx="86.42" cy="524.89" r="1.35"/><circle cx="88.77" cy="524.89" r="1.35"/><circle cx="83.79" cy="523.33" r="1.35"/><circle cx="86.36" cy="523.33" r="1.35"/><circle cx="88.66" cy="523.33" r="1.35"/><circle cx="83.48" cy="521.78" r="1.35"/><circle cx="86.1" cy="521.78" r="1.35"/><circle cx="88.67" cy="521.78" r="1.35"/><circle cx="82.73" cy="520.22" r="1.35"/><circle cx="86.08" cy="520.22" r="1.35"/><circle cx="89.67" cy="520.22" r="1.35"/><circle cx="84.26" cy="518.67" r="1.35"/><circle cx="88.16" cy="518.67" r="1.35"/><circle cx="84.37" cy="517.12" r="1.35"/><circle cx="87.93" cy="517.12" r="1.35"/><circle cx="84.49" cy="515.56" r="1.35"/><circle cx="88.16" cy="515.56" r="1.35"/><circle cx="84.41" cy="514.01" r="1.35"/><circle cx="88.16" cy="514.01" r="1.35"/><circle cx="84.45" cy="512.46" r="1.35"/><circle cx="87.97" cy="512.46" r="1.35"/><circle cx="84.46" cy="510.9" r="1.35"/><circle cx="87.71" cy="510.9" r="1.35"/><circle cx="86.17" cy="509.35" r="1.35"/><circle cx="86.04" cy="507.79" r="1.35"/><circle cx="85.95" cy="504.69" r="1.35"/><circle cx="86.35" cy="503.13" r="1.35"/><circle cx="86.04" cy="498.47" r="1.35"/><circle cx="86.19" cy="492.26" r="1.35"/><circle cx="86.31" cy="487.6" r="1.35"/></g>
<g fill="#000"><circle cx="108.43" cy="551.3" r="1.35"/><circle cx="110.91" cy="551.3" r="1.35"/><circle cx="113.61" cy="551.3" r="1.35"/><circle cx="116.23" cy="551.3" r="1.35"/><circle cx="118.94" cy="551.3" r="1.35"/><circle cx="121.2" cy="551.3" r="1.35"/><circle cx="107.13" cy="549.75" r="1.35"/><circle cx="109.57" cy="549.75" r="1.35"/><circle cx="112.19" cy="549.75" r="1.35"/><circle cx="115.04" cy="549.75" r="1.35"/><circle cx="117.5" cy="549.75" r="1.35"/><circle cx="120.13" cy="549.75" r="1.35"/><circle cx="122.83" cy="549.75" r="1.35"/><circle cx="107.31" cy="548.19" r="1.35"/><circle cx="109.67" cy="548.19" r="1.35"/><circle cx="112.36" cy="548.19" r="1.35"/><circle cx="114.9" cy="548.19" r="1.35"/><circle cx="117.51" cy="548.19" r="1.35"/><circle cx="120.2" cy="548.19" r="1.35"/><circle cx="122.68" cy="548.19" r="1.35"/><circle cx="107.12" cy="546.64" r="1.35"/><circle cx="109.69" cy="546.64" r="1.35"/><circle cx="112.52" cy="546.64" r="1.35"/><circle cx="115" cy="546.64" r="1.35"/><circle cx="117.69" cy="546.64" r="1.35"/><circle cx="120.32" cy="546.64" r="1.35"/><circle cx="122.58" cy="546.64" r="1.35"/><circle cx="107.13" cy="545.08" r="1.35"/><circle cx="109.92" cy="545.08" r="1.35"/><circle cx="112.47" cy="545.08" r="1.35"/><circle cx="114.72" cy="545.08" r="1.35"/><circle cx="117.31" cy="545.08" r="1.35"/><circle cx="120.07" cy="545.08" r="1.35"/><circle cx="122.49" cy="545.08" r="1.35"/><circle cx="106.97" cy="543.53" r="1.35"/><circle cx="109.49" cy="543.53" r="1.35"/><circle cx="112.38" cy="543.53" r="1.35"/><circle cx="115.04" cy="543.53" r="1.35"/><circle cx="117.7" cy="543.53" r="1.35"/><circle cx="119.93" cy="543.53" r="1.35"/><circle cx="122.81" cy="543.53" r="1.35"/><circle cx="107.18" cy="541.98" r="1.35"/><circle cx="109.52" cy="541.98" r="1.35"/><circle cx="112.49" cy="541.98" r="1.35"/><circle cx="115.13" cy="541.98" r="1.35"/><circle cx="117.36" cy="541.98" r="1.35"/><circle cx="120.33" cy="541.98" r="1.35"/><circle cx="122.65" cy="541.98" r="1.35"/><circle cx="107.09" cy="540.42" r="1.35"/><circle cx="109.94" cy="540.42" r="1.35"/><circle cx="112.47" cy="540.42" r="1.35"/><circle cx="114.73" cy="540.42" r="1.35"/><circle cx="117.47" cy="540.42" r="1.35"/><circle cx="120.11" cy="540.42" r="1.35"/><circle cx="122.62" cy="540.42" r="1.35"/><circle cx="106.95" cy="538.87" r="1.35"/><circle cx="109.61" cy="538.87" r="1.35"/><circle cx="112.41" cy="538.87" r="1.35"/><circle cx="114.66" cy="538.87" r="1.35"/><circle cx="117.53" cy="538.87" r="1.35"/><circle cx="120.07" cy="538.87" r="1.35"/><circle cx="122.46" cy="538.87" r="1.35"/><circle cx="107.02" cy="537.32" r="1.35"/><circle cx="109.76" cy="537.32" r="1.35"/><circle cx="112.31" cy="537.32" r="1.35"/><circle cx="114.68" cy="537.32" r="1.35"/><circle cx="117.74" cy="537.32" r="1.35"/><circle cx="120.24" cy="537.32" r="1.35"/><circle cx="122.94" cy="537.32" r="1.35"/><circle cx="106.9" cy="535.76" r="1.35"/><circle cx="109.58" cy="535.76" r="1.35"/><circle cx="112.07" cy="535.76" r="1.35"/><circle cx="115.04" cy="535.76" r="1.35"/><circle cx="117.39" cy="535.76" r="1.35"/><circle cx="119.91" cy="535.76" r="1.35"/><circle cx="122.66" cy="535.76" r="1.35"/><circle cx="107.31" cy="534.21" r="1.35"/><circle cx="109.86" cy="534.21" r="1.35"/><circle cx="112.18" cy="534.21" r="1.35"/><circle cx="114.72" cy="534.21" r="1.35"/><circle cx="117.71" cy="534.21" r="1.35"/><circle cx="120.14" cy="534.21" r="1.35"/><circle cx="122.8" cy="534.21" r="1.35"/><circle cx="106.89" cy="532.65" r="1.35"/><circle cx="109.48" cy="532.65" r="1.35"/><circle cx="112.39" cy="532.65" r="1.35"/><circle cx="114.86" cy="532.65" r="1.35"/><circle cx="117.29" cy="532.65" r="1.35"/><circle cx="120.32" cy="532.65" r="1.35"/><circle cx="122.77" cy="532.65" r="1.35"/><circle cx="107.25" cy="531.1" r="1.35"/><circle cx="109.49" cy="531.1" r="1.35"/><circle cx="112.48" cy="531.1" r="1.35"/><circle cx="114.68" cy="531.1" r="1.35"/><circle cx="117.68" cy="531.1" r="1.35"/><circle cx="120.08" cy="531.1" r="1.35"/><circle cx="122.62" cy="531.1" r="1.35"/><circle cx="107.13" cy="529.55" r="1.35"/><circle cx="109.91" cy="529.55" r="1.35"/><circle cx="112.18" cy="529.55" r="1.35"/><circle cx="114.71" cy="529.55" r="1.35"/><circle cx="117.51" cy="529.55" r="1.35"/><circle cx="119.97" cy="529.55" r="1.35"/><circle cx="122.5" cy="529.55" r="1.35"/><circle cx="106.93" cy="527.99" r="1.35"/><circle cx="109.48" cy="527.99" r="1.35"/><circle cx="112.15" cy="527.99" r="1.35"/><circle cx="114.81" cy="527.99" r="1.35"/><circle cx="117.4" cy="527.99" r="1.35"/><circle cx="120.23" cy="527.99" r="1.35"/><circle cx="122.59" cy="527.99" r="1.35"/><circle cx="107.1" cy="526.44" r="1.35"/><circle cx="109.54" cy="526.44" r="1.35"/><circle cx="112.22" cy="526.44" r="1.35"/><circle cx="114.66" cy="526.44" r="1.35"/><circle cx="117.38" cy="526.44" r="1.35"/><circle cx="119.86" cy="526.44" r="1.35"/><circle cx="122.82" cy="526.44" r="1.35"/><circle cx="107.13" cy="524.89" r="1.35"/><circle cx="109.54" cy="524.89" r="1.35"/><circle cx="112.29" cy="524.89" r="1.35"/><circle cx="115.12" cy="524.89" r="1.35"/><circle cx="117.3" cy="524.89" r="1.35"/><circle cx="120.26" cy="524.89" r="1.35"/><circle cx="122.67" cy="524.89" r="1.35"/><circle cx="108.4" cy="523.33" r="1.35"/><circle cx="111.17" cy="523.33" r="1.35"/><circle cx="113.55" cy="523.33" r="1.35"/><circle cx="116.2" cy="523.33" r="1.35"/><circle cx="118.89" cy="523.33" r="1.35"/><circle cx="121.64" cy="523.33" r="1.35"/><circle cx="108.32" cy="521.78" r="1.35"/><circle cx="111.17" cy="521.78" r="1.35"/><circle cx="113.7" cy="521.78" r="1.35"/><circle cx="116.27" cy="521.78" r="1.35"/><circle cx="118.75" cy="521.78" r="1.35"/><circle cx="121.32" cy="521.78" r="1.35"/><circle cx="110.78" cy="520.22" r="1.35"/><circle cx="113.41" cy="520.22" r="1.35"/><circle cx="115.99" cy="520.22" r="1.35"/><circle cx="118.92" cy="520.22" r="1.35"/><circle cx="110.88" cy="518.67" r="1.35"/><circle cx="113.43" cy="518.67" r="1.35"/><circle cx="115.99" cy="518.67" r="1.35"/><circle cx="118.97" cy="518.67" r="1.35"/><circle cx="111.19" cy="517.12" r="1.35"/><circle cx="113.69" cy="517.12" r="1.35"/><circle cx="116.09" cy="517.12" r="1.35"/><circle cx="118.67" cy="517.12" r="1.35"/><circle cx="111.29" cy="515.56" r="1.35"/><circle cx="114.88" cy="515.56" r="1.35"/><circle cx="118.24" cy="515.56" r="1.35"/><circle cx="110.97" cy="514.01" r="1.35"/><circle cx="113.48" cy="514.01" r="1.35"/><circle cx="116.43" cy="514.01" r="1.35"/><circle cx="119.04" cy="514.01" r="1.35"/><circle cx="111.41" cy="512.46" r="1.35"/><circle cx="114.77" cy="512.46" r="1.35"/><circle cx="118.64" cy="512.46" r="1.35"/><circle cx="111.29" cy="510.9" r="1.35"/><circle cx="114.83" cy="510.9" r="1.35"/><circle cx="118.16" cy="510.9" r="1.35"/><circle cx="111.33" cy="509.35" r="1.35"/><circle cx="114.89" cy="509.35" r="1.35"/><circle cx="118.41" cy="509.35" r="1.35"/><circle cx="113" cy="506.24" r="1.35"/><circle cx="116.66" cy="506.24" r="1.35"/><circle cx="111.14" cy="504.69" r="1.35"/><circle cx="114.78" cy="504.69" r="1.35"/><circle cx="118.2" cy="504.69" r="1.35"/><circle cx="113.09" cy="503.13" r="1.35"/><circle cx="116.43" cy="503.13" r="1.35"/><circle cx="112.91" cy="500.03" r="1.35"/><circle cx="116.56" cy="500.03" r="1.35"/><circle cx="111.26" cy="498.47" r="1.35"/><circle cx="114.94" cy="498.47" r="1.35"/><circle cx="118.42" cy="498.47" r="1.35"/><circle cx="113.27" cy="495.36" r="1.35"/><circle cx="116.73" cy="495.36" r="1.35"/><circle cx="113.25" cy="493.81" r="1.35"/><circle cx="116.84" cy="493.81" r="1.35"/><circle cx="114.84" cy="490.7" r="1.35"/><circle cx="114.81" cy="489.15" r="1.35"/><circle cx="115.14" cy="486.04" r="1.35"/><circle cx="112.97" cy="482.93" r="1.35"/><circle cx="116.77" cy="482.93" r="1.35"/><circle cx="114.97" cy="476.72" r="1.35"/><circle cx="114.67" cy="453.41" r="1.35"/><circle cx="115.07" cy="448.75" r="1.35"/></g>
<g fill="#bfc3c3"><circle cx="137.1" cy="551.3" r="1.35"/><circle cx="139.56" cy="551.3" r="1.35"/><circle cx="142.22" cy="551.3" r="1.35"/><circle cx="144.86" cy="551.3" r="1.35"/><circle cx="147.12" cy="551.3" r="1.35"/><circle cx="149.91" cy="551.3" r="1.35"/><circle cx="135.6" cy="549.75" r="1.35"/><circle cx="138.37" cy="549.75" r="1.35"/><circle cx="140.95" cy="549.75" r="1.35"/><circle cx="143.56" cy="549.75" r="1.35"/><circle cx="146.04" cy="549.75" r="1.35"/><circle cx="148.8" cy="549.75" r="1.35"/><circle cx="151.29" cy="549.75" r="1.35"/><circle cx="135.7" cy="548.19" r="1.35"/><circle cx="138.06" cy="548.19" r="1.35"/><circle cx="140.57" cy="548.19" r="1.35"/><circle cx="143.22" cy="548.19" r="1.35"/><circle cx="145.93" cy="548.19" r="1.35"/><circle cx="148.4" cy="548.19" r="1.35"/><circle cx="151.37" cy="548.19" r="1.35"/><circle cx="135.63" cy="546.64" r="1.35"/><circle cx="138.26" cy="546.64" r="1.35"/><circle cx="140.86" cy="546.64" r="1.35"/><circle cx="143.49" cy="546.64" r="1.35"/><circle cx="145.99" cy="546.64" r="1.35"/><circle cx="148.35" cy="546.64" r="1.35"/><circle cx="151.35" cy="546.64" r="1.35"/><circle cx="135.72" cy="545.08" r="1.35"/><circle cx="138.2" cy="545.08" r="1.35"/><circle cx="140.82" cy="545.08" r="1.35"/><circle cx="143.48" cy="545.08" r="1.35"/><circle cx="145.78" cy="545.08" r="1.35"/><circle cx="148.72" cy="545.08" r="1.35"/><circle cx="151.08" cy="545.08" r="1.35"/><circle cx="135.39" cy="543.53" r="1.35"/><circle cx="138.08" cy="543.53" r="1.35"/><circle cx="140.91" cy="543.53" r="1.35"/><circle cx="143.25" cy="543.53" r="1.35"/><circle cx="146.12" cy="543.53" r="1.35"/><circle cx="148.84" cy="543.53" r="1.35"/><circle cx="151.2" cy="543.53" r="1.35"/><circle cx="135.54" cy="541.98" r="1.35"/><circle cx="138.19" cy="541.98" r="1.35"/><circle cx="140.89" cy="541.98" r="1.35"/><circle cx="143.53" cy="541.98" r="1.35"/><circle cx="146.06" cy="541.98" r="1.35"/><circle cx="148.67" cy="541.98" r="1.35"/><circle cx="150.99" cy="541.98" r="1.35"/><circle cx="136.72" cy="540.42" r="1.35"/><circle cx="139.38" cy="540.42" r="1.35"/><circle cx="142.22" cy="540.42" r="1.35"/><circle cx="144.6" cy="540.42" r="1.35"/><circle cx="147.33" cy="540.42" r="1.35"/><circle cx="149.66" cy="540.42" r="1.35"/><circle cx="136.68" cy="538.87" r="1.35"/><circle cx="139.38" cy="538.87" r="1.35"/><circle cx="142.19" cy="538.87" r="1.35"/><circle cx="144.8" cy="538.87" r="1.35"/><circle cx="147.39" cy="538.87" r="1.35"/><circle cx="149.8" cy="538.87" r="1.35"/><circle cx="136.91" cy="537.32" r="1.35"/><circle cx="139.48" cy="537.32" r="1.35"/><circle cx="142.08" cy="537.32" r="1.35"/><circle cx="144.51" cy="537.32" r="1.35"/><circle cx="147.5" cy="537.32" r="1.35"/><circle cx="149.75" cy="537.32" r="1.35"/><circle cx="138.44" cy="535.76" r="1.35"/><circle cx="141.02" cy="535.76" r="1.35"/><circle cx="143.16" cy="535.76" r="1.35"/><circle cx="145.98" cy="535.76" r="1.35"/><circle cx="148.76" cy="535.76" r="1.35"/><circle cx="138.43" cy="534.21" r="1.35"/><circle cx="140.77" cy="534.21" r="1.35"/><circle cx="143.28" cy="534.21" r="1.35"/><circle cx="145.85" cy="534.21" r="1.35"/><circle cx="148.82" cy="534.21" r="1.35"/><circle cx="138.06" cy="532.65" r="1.35"/><circle cx="140.84" cy="532.65" r="1.35"/><circle cx="143.22" cy="532.65" r="1.35"/><circle cx="146.01" cy="532.65" r="1.35"/><circle cx="148.83" cy="532.65" r="1.35"/><circle cx="139.32" cy="531.1" r="1.35"/><circle cx="142.26" cy="531.1" r="1.35"/><circle cx="144.7" cy="531.1" r="1.35"/><circle cx="147.49" cy="531.1" r="1.35"/><circle cx="139.6" cy="529.55" r="1.35"/><circle cx="141.97" cy="529.55" r="1.35"/><circle cx="144.9" cy="529.55" r="1.35"/><circle cx="147.29" cy="529.55" r="1.35"/><circle cx="139.26" cy="527.99" r="1.35"/><circle cx="141.85" cy="527.99" r="1.35"/><circle cx="144.7" cy="527.99" r="1.35"/><circle cx="147.28" cy="527.99" r="1.35"/><circle cx="139.4" cy="526.44" r="1.35"/><circle cx="141.92" cy="526.44" r="1.35"/><circle cx="144.62" cy="526.44" r="1.35"/><circle cx="147.21" cy="526.44" r="1.35"/><circle cx="140.97" cy="524.89" r="1.35"/><circle cx="143.15" cy="524.89" r="1.35"/><circle cx="146.13" cy="524.89" r="1.35"/><circle cx="140.97" cy="523.33" r="1.35"/><circle cx="143.21" cy="523.33" r="1.35"/><circle cx="146.21" cy="523.33" r="1.35"/><circle cx="140.91" cy="521.78" r="1.35"/><circle cx="143.6" cy="521.78" r="1.35"/><circle cx="145.89" cy="521.78" r="1.35"/><circle cx="141.58" cy="520.22" r="1.35"/><circle cx="145.1" cy="520.22" r="1.35"/><circle cx="141.89" cy="518.67" r="1.35"/><circle cx="145.2" cy="518.67" r="1.35"/><circle cx="141.58" cy="517.12" r="1.35"/><circle cx="145.12" cy="517.12" r="1.35"/><circle cx="143.29" cy="515.56" r="1.35"/><circle cx="143.17" cy="514.01" r="1.35"/><circle cx="143.2" cy="512.46" r="1.35"/><circle cx="143.57" cy="507.79" r="1.35"/><circle cx="143.29" cy="501.58" r="1.35"/><circle cx="143.62" cy="486.04" r="1.35"/><circle cx="143.27" cy="476.72" r="1.35"/></g>
<line x1="47.8" y1="533.7" x2="67" y2="533.7" stroke="#b8121f" stroke-width="2.5"/>
<line x1="76.6" y1="534.3" x2="95.8" y2="534.3" stroke="#b8121f" stroke-width="2.5"/>
<line x1="105.4" y1="526.3" x2="124.6" y2="526.3" stroke="#b8121f" stroke-width="2.5"/>
<line x1="133.8" y1="535.9" x2="153" y2="535.9" stroke="#b8121f" stroke-width="2.5"/>
<polyline points="114.4,435.2 114.4,428.6 143.2,428.6 143.2,435.2" fill="none" stroke="#1a1a1a" stroke-width="1.2" stroke-linejoin="round"/>
<text x="128.8" y="425.66" font-size="7.2" text-anchor="middle" fill="#222">p&lt;0.0001</text>
<text x="11.8" y="497.09" font-size="10.1" text-anchor="middle" fill="#000" transform="rotate(-90 11.8 493.5)">γH2AX foci number</text>
<text x="48.4" y="567.55" font-size="10" text-anchor="end" fill="#000">siCRY1</text>
<text x="57.1" y="567.3" font-size="11.5" text-anchor="middle">-</text>
<text x="86" y="567.3" font-size="11.5" text-anchor="middle">+</text>
<text x="115.1" y="567.3" font-size="11.5" text-anchor="middle">-</text>
<text x="143.6" y="567.3" font-size="11.5" text-anchor="middle">+</text>
<text x="49.4" y="589.42" font-size="10.2" text-anchor="end" fill="#000">IR (24hr)</text>
<text x="57.1" y="589.7" font-size="11.5" text-anchor="middle">-</text>
<text x="86" y="589.7" font-size="11.5" text-anchor="middle">-</text>
<text x="115.4" y="589.7" font-size="11.5" text-anchor="middle">+</text>
<text x="143.6" y="589.7" font-size="11.5" text-anchor="middle">+</text>
<text x="172.6" y="410" font-size="14" font-weight="bold" fill="#2b1410">I</text>
<line x1="229.6" y1="420.8" x2="229.6" y2="546.6" stroke="#000" stroke-width="1.5"/>
<line x1="229" y1="546" x2="419" y2="546" stroke="#000" stroke-width="1.5"/>
<line x1="224.6" y1="546" x2="229.6" y2="546" stroke="#000" stroke-width="1.3"/>
<line x1="226.6" y1="514.85" x2="229.6" y2="514.85" stroke="#000" stroke-width="1.3"/>
<line x1="224.6" y1="483.7" x2="229.6" y2="483.7" stroke="#000" stroke-width="1.3"/>
<line x1="226.6" y1="452.55" x2="229.6" y2="452.55" stroke="#000" stroke-width="1.3"/>
<line x1="224.6" y1="421.4" x2="229.6" y2="421.4" stroke="#000" stroke-width="1.3"/>
<text x="223.3" y="549.48" font-size="9.8" font-weight="bold" text-anchor="end" fill="#000">0</text>
<text x="223.3" y="487.18" font-size="9.8" font-weight="bold" text-anchor="end" fill="#000">50</text>
<text x="223.3" y="424.88" font-size="9.8" font-weight="bold" text-anchor="end" fill="#000">100</text>
<line x1="229.6" y1="546" x2="229.6" y2="550.5" stroke="#000" stroke-width="1.3"/>
<text x="229.6" y="562.78" font-size="9.8" font-weight="bold" text-anchor="middle" fill="#000">0</text>
<line x1="276.57" y1="546" x2="276.57" y2="550.5" stroke="#000" stroke-width="1.3"/>
<text x="276.57" y="562.78" font-size="9.8" font-weight="bold" text-anchor="middle" fill="#000">1</text>
<line x1="323.55" y1="546" x2="323.55" y2="550.5" stroke="#000" stroke-width="1.3"/>
<text x="323.55" y="562.78" font-size="9.8" font-weight="bold" text-anchor="middle" fill="#000">2</text>
<line x1="370.52" y1="546" x2="370.52" y2="550.5" stroke="#000" stroke-width="1.3"/>
<text x="370.52" y="562.78" font-size="9.8" font-weight="bold" text-anchor="middle" fill="#000">3</text>
<line x1="417.5" y1="546" x2="417.5" y2="550.5" stroke="#000" stroke-width="1.3"/>
<text x="417.5" y="562.78" font-size="9.8" font-weight="bold" text-anchor="middle" fill="#000">4</text>
<text x="323.9" y="578.13" font-size="10.5" font-weight="bold" text-anchor="middle" fill="#000">IR Dose (Gy)</text>
<text x="199.8" y="487.93" font-size="10.5" font-weight="bold" text-anchor="middle" fill="#000" transform="rotate(-90 199.8 484.2)">Clonogenic survival (%)</text>
<line x1="276.57" y1="422.65" x2="276.57" y2="479.96" stroke="#cc1478" stroke-width="1.2"/>
<line x1="273.07" y1="422.65" x2="280.07" y2="422.65" stroke="#cc1478" stroke-width="1.2"/>
<line x1="273.07" y1="479.96" x2="280.07" y2="479.96" stroke="#cc1478" stroke-width="1.2"/>
<line x1="276.57" y1="426.38" x2="276.57" y2="457.53" stroke="#4aa546" stroke-width="1.2"/>
<line x1="273.07" y1="426.38" x2="280.07" y2="426.38" stroke="#4aa546" stroke-width="1.2"/>
<line x1="273.07" y1="457.53" x2="280.07" y2="457.53" stroke="#4aa546" stroke-width="1.2"/>
<line x1="276.57" y1="462.52" x2="276.57" y2="491.18" stroke="#1f4a8c" stroke-width="1.2"/>
<line x1="273.07" y1="462.52" x2="280.07" y2="462.52" stroke="#1f4a8c" stroke-width="1.2"/>
<line x1="273.07" y1="491.18" x2="280.07" y2="491.18" stroke="#1f4a8c" stroke-width="1.2"/>
<line x1="276.57" y1="468.75" x2="276.57" y2="496.16" stroke="#000" stroke-width="1.2"/>
<line x1="323.55" y1="456.04" x2="323.55" y2="508.62" stroke="#cc1478" stroke-width="1.2"/>
<line x1="320.05" y1="456.04" x2="327.05" y2="456.04" stroke="#cc1478" stroke-width="1.2"/>
<line x1="320.05" y1="508.62" x2="327.05" y2="508.62" stroke="#cc1478" stroke-width="1.2"/>
<line x1="323.55" y1="458.9" x2="323.55" y2="489.93" stroke="#7aa07a" stroke-width="1.2"/>
<line x1="320.05" y1="458.9" x2="327.05" y2="458.9" stroke="#7aa07a" stroke-width="1.2"/>
<line x1="320.05" y1="489.93" x2="327.05" y2="489.93" stroke="#7aa07a" stroke-width="1.2"/>
<line x1="323.55" y1="463.64" x2="323.55" y2="487.44" stroke="#1f4a8c" stroke-width="1.2"/>
<line x1="320.05" y1="463.64" x2="327.05" y2="463.64" stroke="#1f4a8c" stroke-width="1.2"/>
<line x1="320.05" y1="487.44" x2="327.05" y2="487.44" stroke="#1f4a8c" stroke-width="1.2"/>
<line x1="323.55" y1="499.9" x2="323.55" y2="524.69" stroke="#000" stroke-width="1.2"/>
<line x1="320.05" y1="524.69" x2="327.05" y2="524.69" stroke="#000" stroke-width="1.2"/>
<line x1="417.5" y1="522.7" x2="417.5" y2="536.03" stroke="#1f4a8c" stroke-width="1.2"/>
<line x1="414" y1="522.7" x2="421" y2="522.7" stroke="#1f4a8c" stroke-width="1.2"/>
<line x1="414" y1="536.03" x2="421" y2="536.03" stroke="#1f4a8c" stroke-width="1.2"/>
<line x1="417.5" y1="526.06" x2="417.5" y2="534.79" stroke="#4aa546" stroke-width="1.2"/>
<line x1="414" y1="526.06" x2="421" y2="526.06" stroke="#4aa546" stroke-width="1.2"/>
<circle cx="276.57" cy="477.47" r="2.4" fill="#000"/>
<circle cx="276.57" cy="480.46" r="2.4" fill="#000"/>
<circle cx="276.57" cy="483.95" r="2.4" fill="#000"/>
<circle cx="276.57" cy="497.53" r="2.4" fill="#000"/>
<circle cx="323.55" cy="529.3" r="2.4" fill="#000"/>
<circle cx="323.55" cy="532.79" r="2.4" fill="#000"/>
<circle cx="323.55" cy="535.41" r="2.4" fill="#000"/>
<circle cx="323.55" cy="537.28" r="2.4" fill="#000"/>
<circle cx="417.5" cy="537.28" r="2.4" fill="#000"/>
<circle cx="417.5" cy="541.02" r="2.4" fill="#000"/>
<circle cx="417.5" cy="543.51" r="2.4" fill="#000"/>
<rect x="274.07" y="430.24" width="5" height="5" fill="#4aa546"/>
<rect x="274.07" y="435.97" width="5" height="5" fill="#4aa546"/>
<rect x="274.07" y="448.31" width="5" height="5" fill="#4aa546"/>
<rect x="274.07" y="454.54" width="5" height="5" fill="#4aa546"/>
<rect x="321.05" y="480.95" width="5" height="5" fill="#4aa546"/>
<rect x="321.05" y="499.39" width="5" height="5" fill="#4aa546"/>
<rect x="321.05" y="508.86" width="5" height="5" fill="#4aa546"/>
<rect x="415" y="526.06" width="5" height="5" fill="#4aa546"/>
<rect x="415" y="529.79" width="5" height="5" fill="#4aa546"/>
<polygon points="276.57,441.99 273.7,447.66 279.45,447.66" fill="#cc1478"/>
<polygon points="276.57,474.38 273.7,480.06 279.45,480.06" fill="#cc1478"/>
<polygon points="323.55,479.37 320.68,485.04 326.43,485.04" fill="#cc1478"/>
<polygon points="323.55,517.74 320.68,523.42 326.43,523.42" fill="#cc1478"/>
<polygon points="417.5,530.95 414.62,536.63 420.38,536.63" fill="#cc1478"/>
<polygon points="276.57,444.42 273.7,438.75 279.45,438.75" fill="#1f4a8c"/>
<polygon points="276.57,490.53 273.7,484.85 279.45,484.85" fill="#1f4a8c"/>
<polygon points="323.55,478.44 320.68,472.76 326.43,472.76" fill="#1f4a8c"/>
<polyline points="229.6,421.4 276.57,468.37 323.55,499.03 417.5,539.65" fill="none" stroke="#000" stroke-width="2" stroke-linejoin="round"/>
<polyline points="229.6,421.4 276.57,441.34 323.55,475.35 417.5,529.8" fill="none" stroke="#1f4a8c" stroke-width="2" stroke-linejoin="round"/>
<polyline points="229.6,421.4 276.57,445.07 323.55,481.08 417.5,534.04" fill="none" stroke="#cc1478" stroke-width="2" stroke-linejoin="round"/>
<polyline points="229.6,421.4 276.57,438.47 323.55,474.11 417.5,530.3" fill="none" stroke="#4aa546" stroke-width="2" stroke-linejoin="round"/>
<circle cx="276.57" cy="468.37" r="2.5" fill="#000"/>
<rect x="273.97" y="435.87" width="5.2" height="5.2" fill="#4aa546"/>
<polygon points="276.57,441.88 273.58,447.76 279.56,447.76" fill="#cc1478"/>
<polygon points="276.57,444.53 273.58,438.65 279.56,438.65" fill="#1f4a8c"/>
<circle cx="323.55" cy="499.03" r="2.5" fill="#000"/>
<rect x="320.95" y="471.51" width="5.2" height="5.2" fill="#3a6a3a"/>
<polygon points="323.55,477.89 320.56,483.77 326.54,483.77" fill="#cc1478"/>
<polygon points="323.55,478.54 320.56,472.66 326.54,472.66" fill="#2a4a2a"/>
<circle cx="417.5" cy="539.65" r="2.5" fill="#000"/>
<rect x="414.9" y="527.7" width="5.2" height="5.2" fill="#4aa546"/>
<circle cx="229.6" cy="421.4" r="2.64" fill="#000"/>
<line x1="334.2" y1="428.5" x2="349.2" y2="428.5" stroke="#000" stroke-width="2"/>
<circle cx="342" cy="428.5" r="2.4" fill="#000"/>
<text x="356.2" y="431.55" font-size="8.6" text-anchor="start" fill="#000">siNT</text>
<line x1="334.2" y1="439.8" x2="349.2" y2="439.8" stroke="#4aa546" stroke-width="2"/>
<rect x="339.5" y="437.3" width="5" height="5" fill="#4aa546"/>
<text x="356.2" y="442.85" font-size="8.6" text-anchor="start" fill="#000">siCRY1</text>
<line x1="334.2" y1="451.1" x2="349.2" y2="451.1" stroke="#cc1478" stroke-width="2"/>
<polygon points="342,448.01 339.12,453.69 344.88,453.69" fill="#cc1478"/>
<text x="356.2" y="454.15" font-size="8.6" text-anchor="start" fill="#000">siCCAR2</text>
<line x1="334.2" y1="462.8" x2="349.2" y2="462.8" stroke="#1f4a8c" stroke-width="2"/>
<polygon points="342,465.89 339.12,460.21 344.88,460.21" fill="#1f4a8c"/>
<text x="356.2" y="465.85" font-size="8.6" text-anchor="start" fill="#000">siCRY1siCCAR2</text>
<text x="425.8" y="410.2" font-size="14" font-weight="bold" fill="#2b1410">J</text>
<line x1="485.4" y1="421.1" x2="485.4" y2="547" stroke="#000" stroke-width="1.4"/>
<line x1="484.8" y1="546.4" x2="674" y2="546.4" stroke="#000" stroke-width="1.4"/>
<line x1="480.4" y1="546.4" x2="485.4" y2="546.4" stroke="#000" stroke-width="1.3"/>
<line x1="482.4" y1="515.23" x2="485.4" y2="515.23" stroke="#000" stroke-width="1.3"/>
<line x1="480.4" y1="484.05" x2="485.4" y2="484.05" stroke="#000" stroke-width="1.3"/>
<line x1="482.4" y1="452.88" x2="485.4" y2="452.88" stroke="#000" stroke-width="1.3"/>
<line x1="480.4" y1="421.7" x2="485.4" y2="421.7" stroke="#000" stroke-width="1.3"/>
<text x="480.4" y="550.13" font-size="10.5" text-anchor="end" fill="#000">0</text>
<text x="480.4" y="487.78" font-size="10.5" text-anchor="end" fill="#000">50</text>
<text x="480.4" y="425.43" font-size="10.5" text-anchor="end" fill="#000">100</text>
<line x1="485.4" y1="546.4" x2="485.4" y2="550.9" stroke="#000" stroke-width="1.3"/>
<text x="485.4" y="561.83" font-size="10.5" text-anchor="middle" fill="#000">0.0</text>
<line x1="532.25" y1="546.4" x2="532.25" y2="550.9" stroke="#000" stroke-width="1.3"/>
<text x="532.25" y="561.83" font-size="10.5" text-anchor="middle" fill="#000">2.5</text>
<line x1="579.1" y1="546.4" x2="579.1" y2="550.9" stroke="#000" stroke-width="1.3"/>
<text x="579.1" y="561.83" font-size="10.5" text-anchor="middle" fill="#000">5.0</text>
<line x1="625.95" y1="546.4" x2="625.95" y2="550.9" stroke="#000" stroke-width="1.3"/>
<text x="625.95" y="561.83" font-size="10.5" text-anchor="middle" fill="#000">7.5</text>
<line x1="672.8" y1="546.4" x2="672.8" y2="550.9" stroke="#000" stroke-width="1.3"/>
<text x="672.8" y="561.83" font-size="10.5" text-anchor="middle" fill="#000">10.0</text>
<text x="579.6" y="575.31" font-size="9.9" text-anchor="middle" fill="#000">VP16 dose ( µM)</text>
<text x="455.2" y="491.62" font-size="10.2" text-anchor="middle" fill="#000" transform="rotate(-90 455.2 488)">Clonogenic survival (%)</text>
<line x1="532.25" y1="429.93" x2="532.25" y2="469.09" stroke="#2a3490" stroke-width="1.2"/>
<line x1="528.75" y1="429.93" x2="535.75" y2="429.93" stroke="#2a3490" stroke-width="1.2"/>
<line x1="528.75" y1="469.09" x2="535.75" y2="469.09" stroke="#2a3490" stroke-width="1.2"/>
<line x1="532.25" y1="432.92" x2="532.25" y2="459.11" stroke="#3ca84a" stroke-width="1.2"/>
<line x1="532.25" y1="446.64" x2="532.25" y2="484.05" stroke="#e0307e" stroke-width="1.2"/>
<line x1="532.25" y1="476.57" x2="532.25" y2="497.77" stroke="#000" stroke-width="1.2"/>
<line x1="579.1" y1="483.68" x2="579.1" y2="510.86" stroke="#3ca84a" stroke-width="1.2"/>
<line x1="579.1" y1="504" x2="579.1" y2="522.71" stroke="#e0307e" stroke-width="1.2"/>
<line x1="579.1" y1="507.74" x2="579.1" y2="513.98" stroke="#2a3490" stroke-width="1.2"/>
<line x1="575.6" y1="507.74" x2="582.6" y2="507.74" stroke="#2a3490" stroke-width="1.2"/>
<line x1="575.6" y1="513.98" x2="582.6" y2="513.98" stroke="#2a3490" stroke-width="1.2"/>
<line x1="672.8" y1="527.69" x2="672.8" y2="538.92" stroke="#2a3490" stroke-width="1.2"/>
<line x1="669.3" y1="527.69" x2="676.3" y2="527.69" stroke="#2a3490" stroke-width="1.2"/>
<line x1="669.3" y1="538.92" x2="676.3" y2="538.92" stroke="#2a3490" stroke-width="1.2"/>
<circle cx="532.25" cy="477.44" r="2.4" fill="#000"/>
<circle cx="532.25" cy="485.05" r="2.4" fill="#000"/>
<circle cx="532.25" cy="497.77" r="2.4" fill="#000"/>
<circle cx="579.1" cy="529.81" r="2.4" fill="#000"/>
<circle cx="579.1" cy="536.42" r="2.4" fill="#000"/>
<circle cx="672.8" cy="538.92" r="2.4" fill="#000"/>
<circle cx="672.8" cy="543.28" r="2.4" fill="#000"/>
<rect x="529.75" y="430.17" width="5" height="5" fill="#3ca84a"/>
<rect x="529.75" y="448.63" width="5" height="5" fill="#3ca84a"/>
<rect x="529.75" y="455.74" width="5" height="5" fill="#3ca84a"/>
<rect x="576.6" y="481.18" width="5" height="5" fill="#3ca84a"/>
<rect x="576.6" y="497.01" width="5" height="5" fill="#3ca84a"/>
<rect x="576.6" y="508.36" width="5" height="5" fill="#3ca84a"/>
<rect x="670.3" y="527.69" width="5" height="5" fill="#3ca84a"/>
<rect x="670.3" y="531.43" width="5" height="5" fill="#3ca84a"/>
<polygon points="532.25,443.55 529.38,449.23 535.12,449.23" fill="#e0307e"/>
<polygon points="532.25,478.47 529.38,484.14 535.12,484.14" fill="#e0307e"/>
<polygon points="579.1,519.37 576.22,525.05 581.97,525.05" fill="#e0307e"/>
<polygon points="532.25,490.88 529.38,485.2 535.12,485.2" fill="#2a3490"/>
<polyline points="485.4,421.7 532.25,487.79 579.1,534.3 672.8,541.41" fill="none" stroke="#000" stroke-width="1.5" stroke-linejoin="round"/>
<polyline points="485.4,421.7 532.25,446.89 579.1,499.51 672.8,532.68" fill="none" stroke="#3ca84a" stroke-width="1.5" stroke-linejoin="round"/>
<polyline points="485.4,421.7 532.25,468.59 579.1,503.75 672.8,540.16" fill="none" stroke="#e0307e" stroke-width="1.5" stroke-linejoin="round"/>
<polyline points="485.4,421.7 532.25,456.24 579.1,508.49 672.8,536.42" fill="none" stroke="#2a3490" stroke-width="1.5" stroke-linejoin="round"/>
<circle cx="532.25" cy="487.79" r="2.4" fill="#000"/>
<rect x="529.75" y="444.39" width="5" height="5" fill="#3ca84a"/>
<polygon points="532.25,465.5 529.38,471.17 535.12,471.17" fill="#e0307e"/>
<polygon points="532.25,459.33 529.38,453.65 535.12,453.65" fill="#2a3490"/>
<circle cx="579.1" cy="534.3" r="2.4" fill="#000"/>
<rect x="576.6" y="497.01" width="5" height="5" fill="#3ca84a"/>
<polygon points="579.1,500.67 576.22,506.34 581.97,506.34" fill="#e0307e"/>
<polygon points="579.1,511.58 576.22,505.9 581.97,505.9" fill="#2a3490"/>
<circle cx="672.8" cy="541.41" r="2.4" fill="#000"/>
<rect x="670.3" y="530.18" width="5" height="5" fill="#3ca84a"/>
<polygon points="672.8,537.08 669.92,542.75 675.67,542.75" fill="#e0307e"/>
<polygon points="672.8,539.51 669.92,533.84 675.67,533.84" fill="#2a3490"/>
<circle cx="485.4" cy="421.7" r="2.64" fill="#000"/>
<line x1="590" y1="429.1" x2="605" y2="429.1" stroke="#000" stroke-width="1.5"/>
<circle cx="597.5" cy="429.1" r="2.4" fill="#000"/>
<text x="611.7" y="432.08" font-size="8.4" text-anchor="start" fill="#000">siNT</text>
<line x1="590" y1="440.2" x2="605" y2="440.2" stroke="#3ca84a" stroke-width="1.5"/>
<rect x="595" y="437.7" width="5" height="5" fill="#3ca84a"/>
<text x="611.7" y="443.18" font-size="8.4" text-anchor="start" fill="#000">siCRY1</text>
<line x1="590" y1="452.9" x2="605" y2="452.9" stroke="#e0307e" stroke-width="1.5"/>
<polygon points="597.5,449.81 594.62,455.49 600.38,455.49" fill="#e0307e"/>
<text x="611.7" y="455.88" font-size="8.4" text-anchor="start" fill="#000">siCCAR2</text>
<line x1="590" y1="467.9" x2="605" y2="467.9" stroke="#2a3490" stroke-width="1.5"/>
<polygon points="597.5,470.99 594.62,465.31 600.38,465.31" fill="#2a3490"/>
<text x="611.7" y="470.88" font-size="8.4" text-anchor="start" fill="#000">siCRY1siCCAR2</text>
<text x="2" y="621" font-size="14" font-weight="bold" fill="#2b1410">K</text>
<line x1="48.2" y1="630.1" x2="48.2" y2="756" stroke="#000" stroke-width="1.3"/>
<line x1="47.6" y1="755.4" x2="173.7" y2="755.4" stroke="#000" stroke-width="1.3"/>
<line x1="44.2" y1="755.4" x2="48.2" y2="755.4" stroke="#000" stroke-width="1.3"/>
<text x="44.8" y="759.3" font-size="11" text-anchor="end" fill="#000">0</text>
<line x1="44.2" y1="713.83" x2="48.2" y2="713.83" stroke="#000" stroke-width="1.3"/>
<text x="44.8" y="717.74" font-size="11" text-anchor="end" fill="#000">5</text>
<line x1="44.2" y1="672.27" x2="48.2" y2="672.27" stroke="#000" stroke-width="1.3"/>
<text x="44.8" y="676.17" font-size="11" text-anchor="end" fill="#000">10</text>
<line x1="44.2" y1="630.7" x2="48.2" y2="630.7" stroke="#000" stroke-width="1.3"/>
<text x="44.8" y="634.61" font-size="11" text-anchor="end" fill="#000">15</text>
<polyline points="58.4,755.4 58.4,673.1 77.4,673.1 77.4,755.4" fill="none" stroke="#1a1a1a" stroke-width="1.3"/>
<line x1="67.9" y1="669.77" x2="67.9" y2="673.1" stroke="#1a1a1a" stroke-width="1.3"/>
<line x1="62.9" y1="669.77" x2="72.9" y2="669.77" stroke="#1a1a1a" stroke-width="1.3"/>
<polyline points="86.7,755.4 86.7,718.32 106,718.32 106,755.4" fill="none" stroke="#1a1a1a" stroke-width="1.3"/>
<line x1="96.35" y1="713.83" x2="96.35" y2="718.32" stroke="#1a1a1a" stroke-width="1.3"/>
<line x1="91.35" y1="713.83" x2="101.35" y2="713.83" stroke="#1a1a1a" stroke-width="1.3"/>
<polyline points="115.9,755.4 115.9,713 135.2,713 135.2,755.4" fill="none" stroke="#1a1a1a" stroke-width="1.3"/>
<line x1="125.55" y1="705.19" x2="125.55" y2="713" stroke="#1a1a1a" stroke-width="1.3"/>
<line x1="120.55" y1="705.19" x2="130.55" y2="705.19" stroke="#1a1a1a" stroke-width="1.3"/>
<polyline points="144.5,755.4 144.5,709.26 164.1,709.26 164.1,755.4" fill="none" stroke="#1a1a1a" stroke-width="1.3"/>
<line x1="154.3" y1="702.19" x2="154.3" y2="709.26" stroke="#1a1a1a" stroke-width="1.3"/>
<line x1="149.3" y1="702.19" x2="159.3" y2="702.19" stroke="#1a1a1a" stroke-width="1.3"/>
<circle cx="61.3" cy="674.5" r="2.3" fill="#e8502a"/>
<circle cx="75.3" cy="670.4" r="2.3" fill="#e8502a"/>
<rect x="94.2" y="714.3" width="4.4" height="4.4" fill="#e8502a"/>
<rect x="94.2" y="716.6" width="4.4" height="4.4" fill="#e8502a"/>
<rect x="94.2" y="718.8" width="4.4" height="4.4" fill="#e8502a"/>
<polygon points="125.5,714.06 122.9,719.24 128.1,719.24" fill="#e8502a"/>
<polygon points="154.7,715.64 152.1,710.46 157.3,710.46" fill="#e8502a"/>
<line x1="66.4" y1="655.6" x2="96.9" y2="655.6" stroke="#1a1a1a" stroke-width="1.3"/>
<text x="78.5" y="652.97" font-size="9.2" text-anchor="middle" fill="#222">p=0.0059</text>
<line x1="66.6" y1="639.5" x2="122" y2="639.5" stroke="#1a1a1a" stroke-width="1.3"/>
<text x="95.5" y="637.27" font-size="9.2" text-anchor="middle" fill="#222">p=0.0192</text>
<line x1="66.6" y1="623.7" x2="156.1" y2="623.7" stroke="#1a1a1a" stroke-width="1.3"/>
<text x="113.8" y="620.67" font-size="9.2" text-anchor="middle" fill="#222">p=0.0187</text>
<text x="22.9" y="692.33" font-size="12.2" text-anchor="middle" fill="#000" transform="rotate(-90 22.9 688)">Cells with µnuclei (%)</text>
<text x="53.8" y="773.22" font-size="10.2" text-anchor="end" fill="#000">siCRY1</text>
<text x="68.6" y="773.3" font-size="11.5" text-anchor="middle">-</text>
<text x="97.8" y="773.3" font-size="11.5" text-anchor="middle">+</text>
<text x="125.4" y="773.3" font-size="11.5" text-anchor="middle">-</text>
<text x="155.1" y="773.3" font-size="11.5" text-anchor="middle">+</text>
<text x="53.8" y="793.92" font-size="10.2" text-anchor="end" fill="#000">siCCAR2</text>
<text x="68.6" y="789.9" font-size="11.5" text-anchor="middle">-</text>
<text x="97.6" y="789.9" font-size="11.5" text-anchor="middle">-</text>
<text x="125.8" y="789.9" font-size="11.5" text-anchor="middle">+</text>
<text x="155.1" y="789.9" font-size="11.5" text-anchor="middle">+</text>
<text x="193.2" y="603" font-size="14" font-weight="bold" fill="#2b1410">L</text>
<line x1="250.8" y1="607.2" x2="250.8" y2="757.6" stroke="#000" stroke-width="1.3"/>
<line x1="250.2" y1="757" x2="376.6" y2="757" stroke="#000" stroke-width="1.3"/>
<line x1="245.8" y1="757" x2="250.8" y2="757" stroke="#000" stroke-width="1.3"/>
<text x="244.4" y="760.98" font-size="9.8" font-weight="bold" text-anchor="end" fill="#000">0</text>
<line x1="245.8" y1="719.7" x2="250.8" y2="719.7" stroke="#000" stroke-width="1.3"/>
<text x="244.4" y="723.68" font-size="9.8" font-weight="bold" text-anchor="end" fill="#000">50</text>
<line x1="245.8" y1="682.4" x2="250.8" y2="682.4" stroke="#000" stroke-width="1.3"/>
<text x="244.4" y="686.38" font-size="9.8" font-weight="bold" text-anchor="end" fill="#000">100</text>
<line x1="245.8" y1="645.1" x2="250.8" y2="645.1" stroke="#000" stroke-width="1.3"/>
<text x="244.4" y="649.08" font-size="9.8" font-weight="bold" text-anchor="end" fill="#000">150</text>
<line x1="245.8" y1="607.8" x2="250.8" y2="607.8" stroke="#000" stroke-width="1.3"/>
<text x="244.4" y="611.78" font-size="9.8" font-weight="bold" text-anchor="end" fill="#000">200</text>
<g fill="#000"><circle cx="270.21" cy="748.98" r="1.9"/><circle cx="270.75" cy="748.15" r="1.9"/><circle cx="268.94" cy="746.92" r="1.9"/><circle cx="271.92" cy="746.7" r="1.9"/><circle cx="267.6" cy="745.56" r="1.9"/><circle cx="272.4" cy="745.57" r="1.9"/><circle cx="267.35" cy="743.9" r="1.9"/><circle cx="270.54" cy="743.94" r="1.9"/><circle cx="272.86" cy="744.07" r="1.9"/><circle cx="267.5" cy="743.2" r="1.9"/><circle cx="270.01" cy="743.01" r="1.9"/><circle cx="272.93" cy="742.95" r="1.9"/><circle cx="266.54" cy="741.46" r="1.9"/><circle cx="269.97" cy="741.91" r="1.9"/><circle cx="273.59" cy="741.5" r="1.9"/><circle cx="266.41" cy="740.39" r="1.9"/><circle cx="268.52" cy="740.23" r="1.9"/><circle cx="271.27" cy="740.32" r="1.9"/><circle cx="274.06" cy="740.26" r="1.9"/><circle cx="266.38" cy="739.4" r="1.9"/><circle cx="269.11" cy="739.11" r="1.9"/><circle cx="271.42" cy="739.18" r="1.9"/><circle cx="273.98" cy="739.07" r="1.9"/><circle cx="266.05" cy="738.2" r="1.9"/><circle cx="268.58" cy="737.92" r="1.9"/><circle cx="271.63" cy="738.13" r="1.9"/><circle cx="273.95" cy="737.78" r="1.9"/><circle cx="265.64" cy="736.63" r="1.9"/><circle cx="269.07" cy="736.88" r="1.9"/><circle cx="271.99" cy="736.38" r="1.9"/><circle cx="274.3" cy="736.79" r="1.9"/><circle cx="264.62" cy="735.47" r="1.9"/><circle cx="267.02" cy="735.35" r="1.9"/><circle cx="270.54" cy="735.61" r="1.9"/><circle cx="273.26" cy="735.7" r="1.9"/><circle cx="275.56" cy="735.18" r="1.9"/><circle cx="265.2" cy="734.28" r="1.9"/><circle cx="268.04" cy="734.3" r="1.9"/><circle cx="270.32" cy="734.33" r="1.9"/><circle cx="272.68" cy="734.2" r="1.9"/><circle cx="274.85" cy="734.34" r="1.9"/><circle cx="265.09" cy="733" r="1.9"/><circle cx="267.32" cy="732.69" r="1.9"/><circle cx="270" cy="733" r="1.9"/><circle cx="273.08" cy="732.68" r="1.9"/><circle cx="275.31" cy="732.93" r="1.9"/><circle cx="263.86" cy="731.5" r="1.9"/><circle cx="266.53" cy="731.37" r="1.9"/><circle cx="268.79" cy="731.64" r="1.9"/><circle cx="271.82" cy="731.75" r="1.9"/><circle cx="274.26" cy="731.65" r="1.9"/><circle cx="276.24" cy="731.52" r="1.9"/><circle cx="263.28" cy="730.3" r="1.9"/><circle cx="265.57" cy="730.42" r="1.9"/><circle cx="268.92" cy="730.37" r="1.9"/><circle cx="271.42" cy="730.52" r="1.9"/><circle cx="274.79" cy="730.25" r="1.9"/><circle cx="276.91" cy="730.32" r="1.9"/><circle cx="263.79" cy="728.99" r="1.9"/><circle cx="266.51" cy="729.31" r="1.9"/><circle cx="268.89" cy="728.99" r="1.9"/><circle cx="271.89" cy="729.05" r="1.9"/><circle cx="274.39" cy="729.01" r="1.9"/><circle cx="276.53" cy="729.32" r="1.9"/><circle cx="263.97" cy="727.91" r="1.9"/><circle cx="266" cy="727.75" r="1.9"/><circle cx="268.82" cy="728.02" r="1.9"/><circle cx="271.88" cy="727.7" r="1.9"/><circle cx="274.07" cy="727.74" r="1.9"/><circle cx="277.17" cy="727.7" r="1.9"/><circle cx="263.49" cy="726.6" r="1.9"/><circle cx="266.7" cy="726.9" r="1.9"/><circle cx="269.11" cy="726.97" r="1.9"/><circle cx="271.82" cy="726.56" r="1.9"/><circle cx="273.77" cy="726.93" r="1.9"/><circle cx="276.76" cy="726.39" r="1.9"/><circle cx="262.83" cy="725.34" r="1.9"/><circle cx="265.7" cy="725.22" r="1.9"/><circle cx="268.35" cy="725.28" r="1.9"/><circle cx="271.54" cy="725.69" r="1.9"/><circle cx="274.26" cy="725.7" r="1.9"/><circle cx="277.24" cy="725.33" r="1.9"/><circle cx="262.95" cy="724.13" r="1.9"/><circle cx="264.84" cy="724.15" r="1.9"/><circle cx="267.6" cy="724.42" r="1.9"/><circle cx="269.95" cy="724.09" r="1.9"/><circle cx="273.02" cy="723.89" r="1.9"/><circle cx="275.13" cy="724.35" r="1.9"/><circle cx="277.92" cy="723.89" r="1.9"/><circle cx="263.51" cy="723.17" r="1.9"/><circle cx="266.2" cy="723.07" r="1.9"/><circle cx="269.25" cy="722.82" r="1.9"/><circle cx="271.29" cy="723.19" r="1.9"/><circle cx="274.1" cy="722.77" r="1.9"/><circle cx="276.71" cy="722.81" r="1.9"/><circle cx="263.11" cy="721.82" r="1.9"/><circle cx="266.52" cy="721.75" r="1.9"/><circle cx="269.22" cy="721.38" r="1.9"/><circle cx="271.33" cy="721.65" r="1.9"/><circle cx="274.58" cy="721.94" r="1.9"/><circle cx="276.8" cy="721.52" r="1.9"/><circle cx="263.27" cy="720.67" r="1.9"/><circle cx="265.79" cy="720.6" r="1.9"/><circle cx="269.01" cy="720.61" r="1.9"/><circle cx="271.8" cy="720.48" r="1.9"/><circle cx="274.22" cy="720.31" r="1.9"/><circle cx="277.01" cy="720.59" r="1.9"/><circle cx="263.56" cy="719.32" r="1.9"/><circle cx="266.16" cy="718.91" r="1.9"/><circle cx="268.55" cy="719.2" r="1.9"/><circle cx="271.34" cy="719.46" r="1.9"/><circle cx="274.35" cy="719.46" r="1.9"/><circle cx="276.41" cy="718.92" r="1.9"/><circle cx="263.77" cy="718.04" r="1.9"/><circle cx="266.3" cy="717.76" r="1.9"/><circle cx="268.85" cy="717.99" r="1.9"/><circle cx="271.62" cy="718.07" r="1.9"/><circle cx="274.33" cy="718.02" r="1.9"/><circle cx="276.32" cy="718.12" r="1.9"/><circle cx="263.53" cy="716.59" r="1.9"/><circle cx="266.36" cy="716.49" r="1.9"/><circle cx="268.65" cy="716.51" r="1.9"/><circle cx="271.27" cy="716.9" r="1.9"/><circle cx="274.3" cy="716.56" r="1.9"/><circle cx="276.84" cy="716.96" r="1.9"/><circle cx="262.95" cy="715.6" r="1.9"/><circle cx="266.1" cy="715.71" r="1.9"/><circle cx="268.47" cy="715.4" r="1.9"/><circle cx="271.86" cy="715.62" r="1.9"/><circle cx="274.75" cy="715.14" r="1.9"/><circle cx="277.07" cy="715.19" r="1.9"/><circle cx="264.1" cy="714.22" r="1.9"/><circle cx="266.66" cy="714.09" r="1.9"/><circle cx="269.2" cy="714.14" r="1.9"/><circle cx="271.3" cy="714.33" r="1.9"/><circle cx="274.44" cy="713.93" r="1.9"/><circle cx="276.76" cy="714.24" r="1.9"/><circle cx="263.92" cy="712.7" r="1.9"/><circle cx="266.87" cy="712.77" r="1.9"/><circle cx="270.28" cy="713.01" r="1.9"/><circle cx="273.05" cy="712.62" r="1.9"/><circle cx="276.24" cy="713.02" r="1.9"/><circle cx="264.26" cy="711.49" r="1.9"/><circle cx="267.54" cy="711.7" r="1.9"/><circle cx="269.85" cy="711.43" r="1.9"/><circle cx="273.01" cy="711.7" r="1.9"/><circle cx="276.1" cy="711.42" r="1.9"/><circle cx="264.94" cy="710.36" r="1.9"/><circle cx="267.32" cy="710.3" r="1.9"/><circle cx="270.56" cy="710.3" r="1.9"/><circle cx="272.96" cy="710.33" r="1.9"/><circle cx="275.55" cy="710.64" r="1.9"/><circle cx="263.99" cy="708.99" r="1.9"/><circle cx="267.33" cy="708.99" r="1.9"/><circle cx="269.8" cy="709.41" r="1.9"/><circle cx="273.19" cy="709.36" r="1.9"/><circle cx="276.23" cy="709.4" r="1.9"/><circle cx="264.9" cy="707.63" r="1.9"/><circle cx="267.73" cy="708" r="1.9"/><circle cx="270.53" cy="707.67" r="1.9"/><circle cx="272.81" cy="707.84" r="1.9"/><circle cx="275.23" cy="707.7" r="1.9"/><circle cx="265.86" cy="706.92" r="1.9"/><circle cx="268.44" cy="706.66" r="1.9"/><circle cx="271.9" cy="706.95" r="1.9"/><circle cx="274.31" cy="706.44" r="1.9"/><circle cx="266.03" cy="705.41" r="1.9"/><circle cx="268.33" cy="705.67" r="1.9"/><circle cx="271.63" cy="705.66" r="1.9"/><circle cx="274.85" cy="705.61" r="1.9"/><circle cx="267.02" cy="704" r="1.9"/><circle cx="270.12" cy="704.37" r="1.9"/><circle cx="273.87" cy="703.98" r="1.9"/><circle cx="266.91" cy="702.93" r="1.9"/><circle cx="270.11" cy="702.69" r="1.9"/><circle cx="273.21" cy="703.05" r="1.9"/><circle cx="266.3" cy="701.7" r="1.9"/><circle cx="270.41" cy="701.39" r="1.9"/><circle cx="274" cy="701.44" r="1.9"/><circle cx="267.24" cy="700.49" r="1.9"/><circle cx="270.04" cy="700.37" r="1.9"/><circle cx="273.27" cy="700.37" r="1.9"/><circle cx="267.38" cy="699.13" r="1.9"/><circle cx="269.82" cy="699.24" r="1.9"/><circle cx="272.97" cy="699.01" r="1.9"/><circle cx="267.83" cy="697.89" r="1.9"/><circle cx="269.94" cy="697.9" r="1.9"/><circle cx="272.48" cy="697.69" r="1.9"/><circle cx="267.68" cy="696.63" r="1.9"/><circle cx="272.4" cy="696.39" r="1.9"/><circle cx="267.7" cy="695.56" r="1.9"/><circle cx="272.59" cy="695.42" r="1.9"/><circle cx="268.57" cy="694.09" r="1.9"/><circle cx="272.2" cy="693.95" r="1.9"/><circle cx="268.62" cy="693.06" r="1.9"/><circle cx="272.43" cy="692.73" r="1.9"/><circle cx="268.32" cy="691.94" r="1.9"/><circle cx="272.41" cy="691.47" r="1.9"/><circle cx="268.9" cy="690.16" r="1.9"/><circle cx="271.72" cy="690.57" r="1.9"/><circle cx="270.68" cy="689.03" r="1.9"/><circle cx="268.47" cy="687.92" r="1.9"/><circle cx="271.98" cy="687.74" r="1.9"/><circle cx="270.21" cy="686.56" r="1.9"/><circle cx="269.82" cy="685.21" r="1.9"/><circle cx="270.42" cy="684.4" r="1.9"/><circle cx="270.54" cy="682.69" r="1.9"/><circle cx="270.36" cy="681.58" r="1.9"/><circle cx="270.27" cy="680.47" r="1.9"/><circle cx="269.73" cy="679.46" r="1.9"/><circle cx="270.07" cy="678.1" r="1.9"/><circle cx="270.79" cy="676.71" r="1.9"/><circle cx="270.52" cy="675.38" r="1.9"/><circle cx="270.49" cy="673.9" r="1.9"/><circle cx="269.9" cy="673" r="1.9"/><circle cx="270.3" cy="671.77" r="1.9"/><circle cx="269.6" cy="670.14" r="1.9"/><circle cx="270.34" cy="669.13" r="1.9"/><circle cx="270.67" cy="667.7" r="1.9"/><circle cx="270.38" cy="666.38" r="1.9"/><circle cx="270.03" cy="665.18" r="1.9"/><circle cx="270.2" cy="660.77" r="1.9"/><circle cx="270.2" cy="645.4" r="1.9"/></g>
<g fill="#000"><circle cx="298.87" cy="754.81" r="1.9"/><circle cx="298.85" cy="753.59" r="1.9"/><circle cx="297.16" cy="752.52" r="1.9"/><circle cx="300.74" cy="752.05" r="1.9"/><circle cx="296.9" cy="751.23" r="1.9"/><circle cx="301.84" cy="750.95" r="1.9"/><circle cx="295.34" cy="749.85" r="1.9"/><circle cx="299.25" cy="749.67" r="1.9"/><circle cx="302.79" cy="749.73" r="1.9"/><circle cx="294.79" cy="748.36" r="1.9"/><circle cx="297.99" cy="748.24" r="1.9"/><circle cx="300.76" cy="748.46" r="1.9"/><circle cx="303.58" cy="748.25" r="1.9"/><circle cx="294.01" cy="747.29" r="1.9"/><circle cx="297.95" cy="747.05" r="1.9"/><circle cx="300.56" cy="747.33" r="1.9"/><circle cx="304.01" cy="747.35" r="1.9"/><circle cx="293.73" cy="745.9" r="1.9"/><circle cx="296.43" cy="745.74" r="1.9"/><circle cx="299.51" cy="746.18" r="1.9"/><circle cx="301.98" cy="745.72" r="1.9"/><circle cx="304.69" cy="746.16" r="1.9"/><circle cx="294.22" cy="744.73" r="1.9"/><circle cx="296.39" cy="744.53" r="1.9"/><circle cx="298.99" cy="744.49" r="1.9"/><circle cx="301.65" cy="744.91" r="1.9"/><circle cx="304.53" cy="744.97" r="1.9"/><circle cx="293.18" cy="743.54" r="1.9"/><circle cx="296.23" cy="743.69" r="1.9"/><circle cx="299.22" cy="743.37" r="1.9"/><circle cx="302.23" cy="743.79" r="1.9"/><circle cx="304.8" cy="743.74" r="1.9"/><circle cx="293.72" cy="742.1" r="1.9"/><circle cx="296.75" cy="742.53" r="1.9"/><circle cx="299.4" cy="742.16" r="1.9"/><circle cx="302.15" cy="742.16" r="1.9"/><circle cx="304.28" cy="742.51" r="1.9"/><circle cx="293.05" cy="741.11" r="1.9"/><circle cx="295.8" cy="740.99" r="1.9"/><circle cx="298.21" cy="741.13" r="1.9"/><circle cx="300.75" cy="740.97" r="1.9"/><circle cx="303.16" cy="741.05" r="1.9"/><circle cx="305.35" cy="740.84" r="1.9"/><circle cx="292.37" cy="740.01" r="1.9"/><circle cx="295.02" cy="739.48" r="1.9"/><circle cx="297.59" cy="740.02" r="1.9"/><circle cx="300.37" cy="739.55" r="1.9"/><circle cx="302.72" cy="739.49" r="1.9"/><circle cx="305.84" cy="739.84" r="1.9"/><circle cx="292.61" cy="738.25" r="1.9"/><circle cx="295.2" cy="738.43" r="1.9"/><circle cx="298.1" cy="738.7" r="1.9"/><circle cx="300.87" cy="738.25" r="1.9"/><circle cx="303.56" cy="738.76" r="1.9"/><circle cx="306.34" cy="738.28" r="1.9"/><circle cx="292.62" cy="736.98" r="1.9"/><circle cx="295.71" cy="737.45" r="1.9"/><circle cx="298.05" cy="737.46" r="1.9"/><circle cx="300.56" cy="737.13" r="1.9"/><circle cx="302.64" cy="737.02" r="1.9"/><circle cx="305.68" cy="737.08" r="1.9"/><circle cx="292.52" cy="735.72" r="1.9"/><circle cx="295.03" cy="735.88" r="1.9"/><circle cx="298.05" cy="735.93" r="1.9"/><circle cx="300.38" cy="736.29" r="1.9"/><circle cx="303.17" cy="736.22" r="1.9"/><circle cx="305.91" cy="735.73" r="1.9"/><circle cx="292.21" cy="734.93" r="1.9"/><circle cx="294.91" cy="734.88" r="1.9"/><circle cx="297.84" cy="734.59" r="1.9"/><circle cx="300.88" cy="734.52" r="1.9"/><circle cx="303.62" cy="734.56" r="1.9"/><circle cx="305.74" cy="734.58" r="1.9"/><circle cx="291.92" cy="733.21" r="1.9"/><circle cx="294.09" cy="733.51" r="1.9"/><circle cx="296.88" cy="733.32" r="1.9"/><circle cx="299.2" cy="733.42" r="1.9"/><circle cx="302.02" cy="733.37" r="1.9"/><circle cx="304.66" cy="733.38" r="1.9"/><circle cx="306.63" cy="733.63" r="1.9"/><circle cx="291.87" cy="732.34" r="1.9"/><circle cx="294.65" cy="732.43" r="1.9"/><circle cx="297.95" cy="732.43" r="1.9"/><circle cx="300.71" cy="732.18" r="1.9"/><circle cx="303.33" cy="732.2" r="1.9"/><circle cx="306.53" cy="732.01" r="1.9"/><circle cx="291.67" cy="730.84" r="1.9"/><circle cx="294.72" cy="731.25" r="1.9"/><circle cx="297.77" cy="730.94" r="1.9"/><circle cx="300.94" cy="730.85" r="1.9"/><circle cx="303.46" cy="731.03" r="1.9"/><circle cx="306.56" cy="731.16" r="1.9"/><circle cx="292.7" cy="729.66" r="1.9"/><circle cx="295.1" cy="729.97" r="1.9"/><circle cx="298.05" cy="729.91" r="1.9"/><circle cx="300.21" cy="729.73" r="1.9"/><circle cx="303.24" cy="729.81" r="1.9"/><circle cx="305.28" cy="729.74" r="1.9"/><circle cx="292.74" cy="728.33" r="1.9"/><circle cx="295.92" cy="728.63" r="1.9"/><circle cx="299.47" cy="728.3" r="1.9"/><circle cx="302.05" cy="728.36" r="1.9"/><circle cx="305.31" cy="728.53" r="1.9"/><circle cx="294.14" cy="727.08" r="1.9"/><circle cx="297.94" cy="727.4" r="1.9"/><circle cx="300.52" cy="727.54" r="1.9"/><circle cx="303.81" cy="727.19" r="1.9"/><circle cx="294.08" cy="726.15" r="1.9"/><circle cx="296.47" cy="725.83" r="1.9"/><circle cx="299.31" cy="725.78" r="1.9"/><circle cx="301.64" cy="725.95" r="1.9"/><circle cx="304.18" cy="725.95" r="1.9"/><circle cx="294.77" cy="724.76" r="1.9"/><circle cx="297.78" cy="724.74" r="1.9"/><circle cx="300.44" cy="724.82" r="1.9"/><circle cx="303.71" cy="724.91" r="1.9"/><circle cx="295.01" cy="723.56" r="1.9"/><circle cx="298.02" cy="723.46" r="1.9"/><circle cx="300.36" cy="723.65" r="1.9"/><circle cx="303.64" cy="723.68" r="1.9"/><circle cx="296.09" cy="722.37" r="1.9"/><circle cx="299.31" cy="722.23" r="1.9"/><circle cx="302.44" cy="722.34" r="1.9"/><circle cx="296.75" cy="721.18" r="1.9"/><circle cx="301.75" cy="721.09" r="1.9"/><circle cx="297.15" cy="719.74" r="1.9"/><circle cx="301.29" cy="719.71" r="1.9"/><circle cx="297.63" cy="718.32" r="1.9"/><circle cx="301.24" cy="718.68" r="1.9"/><circle cx="297.78" cy="717.55" r="1.9"/><circle cx="300.24" cy="717.29" r="1.9"/><circle cx="299.54" cy="716.28" r="1.9"/><circle cx="298.72" cy="714.81" r="1.9"/><circle cx="299.46" cy="713.52" r="1.9"/><circle cx="299.59" cy="712.28" r="1.9"/><circle cx="299.74" cy="710.84" r="1.9"/><circle cx="299.2" cy="707.76" r="1.9"/><circle cx="299.2" cy="701.8" r="1.9"/><circle cx="299.2" cy="697.02" r="1.9"/><circle cx="299.2" cy="688.14" r="1.9"/></g>
<g fill="#000"><circle cx="327.77" cy="754.17" r="1.9"/><circle cx="328.48" cy="752.68" r="1.9"/><circle cx="327.63" cy="751.46" r="1.9"/><circle cx="326.02" cy="750.22" r="1.9"/><circle cx="329.88" cy="750.18" r="1.9"/><circle cx="324.76" cy="749.16" r="1.9"/><circle cx="328.25" cy="749.03" r="1.9"/><circle cx="330.59" cy="749.2" r="1.9"/><circle cx="323.8" cy="747.54" r="1.9"/><circle cx="326.83" cy="747.95" r="1.9"/><circle cx="329.3" cy="747.75" r="1.9"/><circle cx="331.82" cy="747.6" r="1.9"/><circle cx="322.81" cy="746.6" r="1.9"/><circle cx="326.5" cy="746.71" r="1.9"/><circle cx="329.53" cy="746.39" r="1.9"/><circle cx="332.91" cy="746.29" r="1.9"/><circle cx="322.42" cy="745.48" r="1.9"/><circle cx="325.03" cy="745.19" r="1.9"/><circle cx="327.7" cy="745.22" r="1.9"/><circle cx="330.33" cy="744.97" r="1.9"/><circle cx="333.44" cy="745.13" r="1.9"/><circle cx="322.57" cy="744" r="1.9"/><circle cx="325.26" cy="744.1" r="1.9"/><circle cx="328.03" cy="743.93" r="1.9"/><circle cx="330.83" cy="744.23" r="1.9"/><circle cx="332.71" cy="744.21" r="1.9"/><circle cx="321.61" cy="742.55" r="1.9"/><circle cx="324.25" cy="742.85" r="1.9"/><circle cx="326.21" cy="742.47" r="1.9"/><circle cx="329.56" cy="742.86" r="1.9"/><circle cx="331.61" cy="742.53" r="1.9"/><circle cx="334.13" cy="742.61" r="1.9"/><circle cx="321.07" cy="741.31" r="1.9"/><circle cx="324.2" cy="741.69" r="1.9"/><circle cx="326.29" cy="741.75" r="1.9"/><circle cx="329.33" cy="741.68" r="1.9"/><circle cx="332.06" cy="741.75" r="1.9"/><circle cx="334.84" cy="741.72" r="1.9"/><circle cx="322" cy="740.28" r="1.9"/><circle cx="325.07" cy="740.23" r="1.9"/><circle cx="328.21" cy="740.3" r="1.9"/><circle cx="330.74" cy="740.11" r="1.9"/><circle cx="333.66" cy="740.26" r="1.9"/><circle cx="321.88" cy="738.8" r="1.9"/><circle cx="324.9" cy="739.01" r="1.9"/><circle cx="327.93" cy="739.23" r="1.9"/><circle cx="330.5" cy="739.22" r="1.9"/><circle cx="333.87" cy="739.05" r="1.9"/><circle cx="321.16" cy="737.69" r="1.9"/><circle cx="323.63" cy="738.04" r="1.9"/><circle cx="326.16" cy="737.85" r="1.9"/><circle cx="329.41" cy="737.48" r="1.9"/><circle cx="332.19" cy="737.88" r="1.9"/><circle cx="335.26" cy="737.66" r="1.9"/><circle cx="320.28" cy="736.51" r="1.9"/><circle cx="323.13" cy="736.24" r="1.9"/><circle cx="325.53" cy="736.59" r="1.9"/><circle cx="327.77" cy="736.73" r="1.9"/><circle cx="330.34" cy="736.5" r="1.9"/><circle cx="333.01" cy="736.68" r="1.9"/><circle cx="335.3" cy="736.48" r="1.9"/><circle cx="321.52" cy="735.46" r="1.9"/><circle cx="323.88" cy="735.46" r="1.9"/><circle cx="326.54" cy="735.27" r="1.9"/><circle cx="329" cy="735.27" r="1.9"/><circle cx="332.13" cy="735.36" r="1.9"/><circle cx="334.56" cy="735.16" r="1.9"/><circle cx="321.88" cy="734.07" r="1.9"/><circle cx="325.08" cy="734.19" r="1.9"/><circle cx="327.53" cy="734.15" r="1.9"/><circle cx="331.14" cy="734.04" r="1.9"/><circle cx="333.4" cy="733.9" r="1.9"/><circle cx="322.61" cy="733.02" r="1.9"/><circle cx="325.47" cy="732.86" r="1.9"/><circle cx="328.13" cy="733.01" r="1.9"/><circle cx="330.51" cy="732.84" r="1.9"/><circle cx="333.04" cy="732.88" r="1.9"/><circle cx="322.7" cy="731.34" r="1.9"/><circle cx="325.36" cy="731.49" r="1.9"/><circle cx="328.11" cy="731.28" r="1.9"/><circle cx="330.32" cy="731.24" r="1.9"/><circle cx="333.46" cy="731.76" r="1.9"/><circle cx="322.85" cy="730.46" r="1.9"/><circle cx="326.48" cy="730.3" r="1.9"/><circle cx="329.35" cy="730.15" r="1.9"/><circle cx="332.78" cy="730.16" r="1.9"/><circle cx="323.8" cy="729.28" r="1.9"/><circle cx="326.14" cy="729.06" r="1.9"/><circle cx="328.94" cy="728.79" r="1.9"/><circle cx="332.37" cy="729.06" r="1.9"/><circle cx="323.65" cy="727.47" r="1.9"/><circle cx="326.41" cy="727.82" r="1.9"/><circle cx="329.65" cy="728.05" r="1.9"/><circle cx="332.08" cy="727.71" r="1.9"/><circle cx="325.04" cy="726.34" r="1.9"/><circle cx="327.62" cy="726.23" r="1.9"/><circle cx="330.48" cy="726.63" r="1.9"/><circle cx="325.73" cy="725.02" r="1.9"/><circle cx="328.2" cy="725.04" r="1.9"/><circle cx="330.06" cy="725.4" r="1.9"/><circle cx="325.91" cy="723.83" r="1.9"/><circle cx="329.72" cy="724.18" r="1.9"/><circle cx="326.08" cy="722.9" r="1.9"/><circle cx="329.67" cy="722.84" r="1.9"/><circle cx="326.08" cy="721.78" r="1.9"/><circle cx="329.49" cy="721.79" r="1.9"/><circle cx="326.03" cy="719.97" r="1.9"/><circle cx="329.5" cy="720.46" r="1.9"/><circle cx="327.67" cy="719.15" r="1.9"/><circle cx="328.33" cy="717.76" r="1.9"/><circle cx="327.74" cy="716.56" r="1.9"/><circle cx="328.11" cy="715.05" r="1.9"/><circle cx="327.74" cy="714.1" r="1.9"/><circle cx="327.9" cy="707.76" r="1.9"/></g>
<g fill="#000"><circle cx="356.7" cy="755.74" r="1.9"/><circle cx="357.33" cy="754.73" r="1.9"/><circle cx="355.16" cy="753.04" r="1.9"/><circle cx="358.65" cy="753.43" r="1.9"/><circle cx="354.2" cy="752.12" r="1.9"/><circle cx="359.65" cy="752.26" r="1.9"/><circle cx="353.52" cy="750.76" r="1.9"/><circle cx="357.11" cy="750.73" r="1.9"/><circle cx="360.08" cy="750.87" r="1.9"/><circle cx="352.82" cy="749.43" r="1.9"/><circle cx="354.99" cy="749.41" r="1.9"/><circle cx="358.15" cy="749.61" r="1.9"/><circle cx="361.28" cy="749.79" r="1.9"/><circle cx="353.26" cy="748.49" r="1.9"/><circle cx="355.83" cy="748.35" r="1.9"/><circle cx="357.89" cy="748.52" r="1.9"/><circle cx="360.85" cy="748.42" r="1.9"/><circle cx="351.53" cy="746.81" r="1.9"/><circle cx="354.27" cy="747.23" r="1.9"/><circle cx="356.56" cy="747.21" r="1.9"/><circle cx="359.72" cy="746.9" r="1.9"/><circle cx="362.03" cy="747.16" r="1.9"/><circle cx="351.5" cy="745.66" r="1.9"/><circle cx="354.47" cy="745.98" r="1.9"/><circle cx="356.77" cy="745.56" r="1.9"/><circle cx="359.58" cy="745.97" r="1.9"/><circle cx="361.65" cy="745.85" r="1.9"/><circle cx="351.09" cy="744.57" r="1.9"/><circle cx="353.77" cy="744.61" r="1.9"/><circle cx="356.55" cy="744.37" r="1.9"/><circle cx="359.55" cy="744.68" r="1.9"/><circle cx="362.71" cy="744.6" r="1.9"/><circle cx="351" cy="743.1" r="1.9"/><circle cx="353.53" cy="743.6" r="1.9"/><circle cx="356.7" cy="743.07" r="1.9"/><circle cx="359.82" cy="743.48" r="1.9"/><circle cx="362.34" cy="743.36" r="1.9"/><circle cx="350.67" cy="741.77" r="1.9"/><circle cx="353.35" cy="742.35" r="1.9"/><circle cx="357.09" cy="742.05" r="1.9"/><circle cx="359.93" cy="741.91" r="1.9"/><circle cx="363.17" cy="742.01" r="1.9"/><circle cx="349.79" cy="741" r="1.9"/><circle cx="352.84" cy="740.66" r="1.9"/><circle cx="354.99" cy="740.63" r="1.9"/><circle cx="357.99" cy="740.56" r="1.9"/><circle cx="360.77" cy="740.84" r="1.9"/><circle cx="364.32" cy="740.78" r="1.9"/><circle cx="349.66" cy="739.29" r="1.9"/><circle cx="352.4" cy="739.49" r="1.9"/><circle cx="355" cy="739.83" r="1.9"/><circle cx="358.1" cy="739.6" r="1.9"/><circle cx="361.39" cy="739.83" r="1.9"/><circle cx="364.41" cy="739.49" r="1.9"/><circle cx="349.56" cy="738.59" r="1.9"/><circle cx="353.01" cy="738.14" r="1.9"/><circle cx="355.04" cy="738.16" r="1.9"/><circle cx="358.08" cy="738.55" r="1.9"/><circle cx="361.31" cy="738.51" r="1.9"/><circle cx="363.41" cy="738.48" r="1.9"/><circle cx="349.32" cy="737.35" r="1.9"/><circle cx="351.38" cy="736.84" r="1.9"/><circle cx="354.47" cy="737.32" r="1.9"/><circle cx="356.94" cy="736.94" r="1.9"/><circle cx="359.41" cy="737.21" r="1.9"/><circle cx="361.55" cy="736.95" r="1.9"/><circle cx="364.21" cy="736.83" r="1.9"/><circle cx="349.48" cy="735.65" r="1.9"/><circle cx="352.28" cy="735.91" r="1.9"/><circle cx="355" cy="735.94" r="1.9"/><circle cx="357.97" cy="735.53" r="1.9"/><circle cx="361.37" cy="735.64" r="1.9"/><circle cx="364.2" cy="736.03" r="1.9"/><circle cx="349.15" cy="734.52" r="1.9"/><circle cx="352.06" cy="734.81" r="1.9"/><circle cx="355.6" cy="734.63" r="1.9"/><circle cx="358.23" cy="734.46" r="1.9"/><circle cx="361.48" cy="734.54" r="1.9"/><circle cx="364.26" cy="734.34" r="1.9"/><circle cx="350.32" cy="733.43" r="1.9"/><circle cx="353.78" cy="733.09" r="1.9"/><circle cx="357.1" cy="733.17" r="1.9"/><circle cx="359.79" cy="733.1" r="1.9"/><circle cx="362.74" cy="733.51" r="1.9"/><circle cx="350.52" cy="732.05" r="1.9"/><circle cx="353.65" cy="732.3" r="1.9"/><circle cx="356.49" cy="732.34" r="1.9"/><circle cx="359.45" cy="732.29" r="1.9"/><circle cx="362.94" cy="731.88" r="1.9"/><circle cx="350.72" cy="730.66" r="1.9"/><circle cx="353.61" cy="730.72" r="1.9"/><circle cx="357.19" cy="731.11" r="1.9"/><circle cx="360.1" cy="730.56" r="1.9"/><circle cx="362.54" cy="731.04" r="1.9"/><circle cx="352.07" cy="729.43" r="1.9"/><circle cx="355.54" cy="729.27" r="1.9"/><circle cx="358.68" cy="729.46" r="1.9"/><circle cx="361.43" cy="729.26" r="1.9"/><circle cx="351.47" cy="728.12" r="1.9"/><circle cx="354.07" cy="728.55" r="1.9"/><circle cx="356.57" cy="728.35" r="1.9"/><circle cx="359.19" cy="728.11" r="1.9"/><circle cx="362.37" cy="728.43" r="1.9"/><circle cx="352.29" cy="726.81" r="1.9"/><circle cx="355.5" cy="727.05" r="1.9"/><circle cx="358.01" cy="726.88" r="1.9"/><circle cx="361.06" cy="727.18" r="1.9"/><circle cx="352.55" cy="725.63" r="1.9"/><circle cx="355.01" cy="725.95" r="1.9"/><circle cx="358.17" cy="725.94" r="1.9"/><circle cx="360.76" cy="725.99" r="1.9"/><circle cx="353.7" cy="724.78" r="1.9"/><circle cx="356.79" cy="724.27" r="1.9"/><circle cx="360.51" cy="724.54" r="1.9"/><circle cx="353.25" cy="723.12" r="1.9"/><circle cx="357.07" cy="723.23" r="1.9"/><circle cx="359.9" cy="723.23" r="1.9"/><circle cx="353.59" cy="722.07" r="1.9"/><circle cx="356.76" cy="722.07" r="1.9"/><circle cx="359.31" cy="722.19" r="1.9"/><circle cx="354.45" cy="720.7" r="1.9"/><circle cx="356.97" cy="720.74" r="1.9"/><circle cx="359.65" cy="720.54" r="1.9"/><circle cx="354.82" cy="719.55" r="1.9"/><circle cx="359.15" cy="719.57" r="1.9"/><circle cx="354.62" cy="718.59" r="1.9"/><circle cx="358.38" cy="718.12" r="1.9"/><circle cx="356.5" cy="717.25" r="1.9"/><circle cx="356.32" cy="715.93" r="1.9"/><circle cx="356.22" cy="714.62" r="1.9"/><circle cx="356.83" cy="713.43" r="1.9"/><circle cx="357.24" cy="712.19" r="1.9"/><circle cx="356.35" cy="710.8" r="1.9"/><circle cx="356.54" cy="709.33" r="1.9"/><circle cx="356.36" cy="708.36" r="1.9"/><circle cx="356.38" cy="707.1" r="1.9"/><circle cx="356.4" cy="706" r="1.9"/><circle cx="356.67" cy="704.51" r="1.9"/><circle cx="356.83" cy="703.24" r="1.9"/><circle cx="357.13" cy="701.96" r="1.9"/><circle cx="356.6" cy="700.77" r="1.9"/><circle cx="357.17" cy="699.8" r="1.9"/></g>
<line x1="260.5" y1="717.3" x2="280.1" y2="717.3" stroke="#a51520" stroke-width="3"/>
<line x1="289.7" y1="735.4" x2="309.3" y2="735.4" stroke="#a51520" stroke-width="3"/>
<line x1="318" y1="736.2" x2="337.6" y2="736.2" stroke="#a51520" stroke-width="3"/>
<line x1="347.2" y1="735.4" x2="366.8" y2="735.4" stroke="#a51520" stroke-width="3"/>
<polyline points="271.1,639.2 271.1,632.7 328.6,632.7 328.6,663.8" fill="none" stroke="#1a1a1a" stroke-width="1.3" stroke-linejoin="round"/>
<line x1="300.3" y1="663.8" x2="358.1" y2="663.8" stroke="#1a1a1a" stroke-width="1.3"/>
<text x="299.5" y="629.27" font-size="9.2" text-anchor="middle" fill="#222">p&lt;0.0001</text>
<text x="220.3" y="691.66" font-size="10.3" text-anchor="middle" fill="#000" transform="rotate(-90 220.3 688)">Neutral comet tail length (pixels)</text>
<text x="262" y="771.12" font-size="10.2" text-anchor="end" fill="#000">siCRY1</text>
<text x="270.8" y="771.8" font-size="11.5" text-anchor="middle">-</text>
<text x="299.3" y="771.8" font-size="11.5" text-anchor="middle">+</text>
<text x="328.6" y="771.8" font-size="11.5" text-anchor="middle">-</text>
<text x="357.1" y="771.8" font-size="11.5" text-anchor="middle">+</text>
<text x="262" y="792.42" font-size="10.2" text-anchor="end" fill="#000">siCCAR2</text>
<text x="270.8" y="793" font-size="11.5" text-anchor="middle">-</text>
<text x="299.5" y="793" font-size="11.5" text-anchor="middle">-</text>
<text x="329" y="793" font-size="11.5" text-anchor="middle">+</text>
<text x="357.1" y="793" font-size="11.5" text-anchor="middle">+</text>
<text x="501.9" y="640.15" font-size="10" text-anchor="middle" fill="#000">siNT</text>
<text x="610" y="640.15" font-size="10" text-anchor="middle" fill="#000">siCRY1</text>
<text x="430" y="670.15" font-size="10" text-anchor="end" fill="#000">siNT</text>
<text x="430" y="704.65" font-size="10" text-anchor="end" fill="#000">siCCAR2</text>
<defs><linearGradient id="b1" x1="0" x2="1" y1="0" y2="0"><stop offset="0" stop-color="#3f9e3a" stop-opacity="0.9"/><stop offset="0.6" stop-color="#3f9e3a" stop-opacity="0.75"/><stop offset="1" stop-color="#3f9e3a" stop-opacity="0"/></linearGradient><linearGradient id="t1" x1="0" x2="1" y1="0" y2="0"><stop offset="0" stop-color="#1e641e" stop-opacity="0.55"/><stop offset="0.5" stop-color="#1e641e" stop-opacity="0.3"/><stop offset="1" stop-color="#1e641e" stop-opacity="0"/></linearGradient><radialGradient id="h1" cx="0.5" cy="0.5" r="0.55"><stop offset="0" stop-color="#98c850"/><stop offset="0.65" stop-color="#7cbc46"/><stop offset="1" stop-color="#3f9e3a" stop-opacity="0.6"/></radialGradient></defs>
<rect x="437.5" y="648.5" width="114.8" height="35" fill="#020302"/>
<rect x="449" y="661" width="83" height="13" rx="6.5" fill="url(#t1)" filter="url(#blur2)"/>
<rect x="449" y="660.25" width="22" height="14.5" rx="6.59" fill="url(#b1)" filter="url(#blur1)"/>
<ellipse cx="449" cy="667.5" rx="7.6" ry="8.2" fill="url(#h1)" filter="url(#blur1)"/>
<defs><linearGradient id="b2" x1="0" x2="1" y1="0" y2="0"><stop offset="0" stop-color="#2f9232" stop-opacity="0.9"/><stop offset="0.6" stop-color="#2f9232" stop-opacity="0.75"/><stop offset="1" stop-color="#2f9232" stop-opacity="0"/></linearGradient><linearGradient id="t2" x1="0" x2="1" y1="0" y2="0"><stop offset="0" stop-color="#1c5a1c" stop-opacity="0.55"/><stop offset="0.5" stop-color="#1c5a1c" stop-opacity="0.3"/><stop offset="1" stop-color="#1c5a1c" stop-opacity="0"/></linearGradient><radialGradient id="h2" cx="0.5" cy="0.5" r="0.55"><stop offset="0" stop-color="#6cbe4c"/><stop offset="0.65" stop-color="#4aac40"/><stop offset="1" stop-color="#2f9232" stop-opacity="0.6"/></radialGradient></defs>
<rect x="554.3" y="648.5" width="114.9" height="35" fill="#020302"/>
<rect x="566.8" y="660.5" width="47.2" height="13" rx="6.5" fill="url(#t2)" filter="url(#blur2)"/>
<rect x="566.8" y="659.5" width="23.2" height="15" rx="6.82" fill="url(#b2)" filter="url(#blur1)"/>
<ellipse cx="566.8" cy="667" rx="8" ry="8.6" fill="url(#h2)" filter="url(#blur1)"/>
<defs><linearGradient id="b3" x1="0" x2="1" y1="0" y2="0"><stop offset="0" stop-color="#2a8a2e" stop-opacity="0.9"/><stop offset="0.6" stop-color="#2a8a2e" stop-opacity="0.75"/><stop offset="1" stop-color="#2a8a2e" stop-opacity="0"/></linearGradient><linearGradient id="t3" x1="0" x2="1" y1="0" y2="0"><stop offset="0" stop-color="#1a501a" stop-opacity="0.55"/><stop offset="0.5" stop-color="#1a501a" stop-opacity="0.3"/><stop offset="1" stop-color="#1a501a" stop-opacity="0"/></linearGradient><radialGradient id="h3" cx="0.5" cy="0.5" r="0.55"><stop offset="0" stop-color="#5ab648"/><stop offset="0.65" stop-color="#40a63c"/><stop offset="1" stop-color="#2a8a2e" stop-opacity="0.6"/></radialGradient></defs>
<rect x="437.5" y="685.4" width="114.8" height="34.4" fill="#020302"/>
<rect x="451" y="696.7" width="41" height="13" rx="6.5" fill="url(#t3)" filter="url(#blur2)"/>
<rect x="451" y="695.7" width="23" height="15" rx="6.82" fill="url(#b3)" filter="url(#blur1)"/>
<ellipse cx="451" cy="703.2" rx="7.8" ry="8.4" fill="url(#h3)" filter="url(#blur1)"/>
<defs><linearGradient id="b4" x1="0" x2="1" y1="0" y2="0"><stop offset="0" stop-color="#2f9232" stop-opacity="0.9"/><stop offset="0.6" stop-color="#2f9232" stop-opacity="0.75"/><stop offset="1" stop-color="#2f9232" stop-opacity="0"/></linearGradient><linearGradient id="t4" x1="0" x2="1" y1="0" y2="0"><stop offset="0" stop-color="#1c5a1c" stop-opacity="0.55"/><stop offset="0.5" stop-color="#1c5a1c" stop-opacity="0.3"/><stop offset="1" stop-color="#1c5a1c" stop-opacity="0"/></linearGradient><radialGradient id="h4" cx="0.5" cy="0.5" r="0.55"><stop offset="0" stop-color="#7ac452"/><stop offset="0.65" stop-color="#56b244"/><stop offset="1" stop-color="#2f9232" stop-opacity="0.6"/></radialGradient></defs>
<rect x="554.3" y="685.4" width="114.9" height="34.4" fill="#020302"/>
<rect x="566.4" y="696.5" width="39.6" height="13" rx="6.5" fill="url(#t4)" filter="url(#blur2)"/>
<rect x="566.4" y="695.5" width="23.6" height="15" rx="6.82" fill="url(#b4)" filter="url(#blur1)"/>
<ellipse cx="566.4" cy="703" rx="7.9" ry="8.4" fill="url(#h4)" filter="url(#blur1)"/>
</svg>
</body></html>
